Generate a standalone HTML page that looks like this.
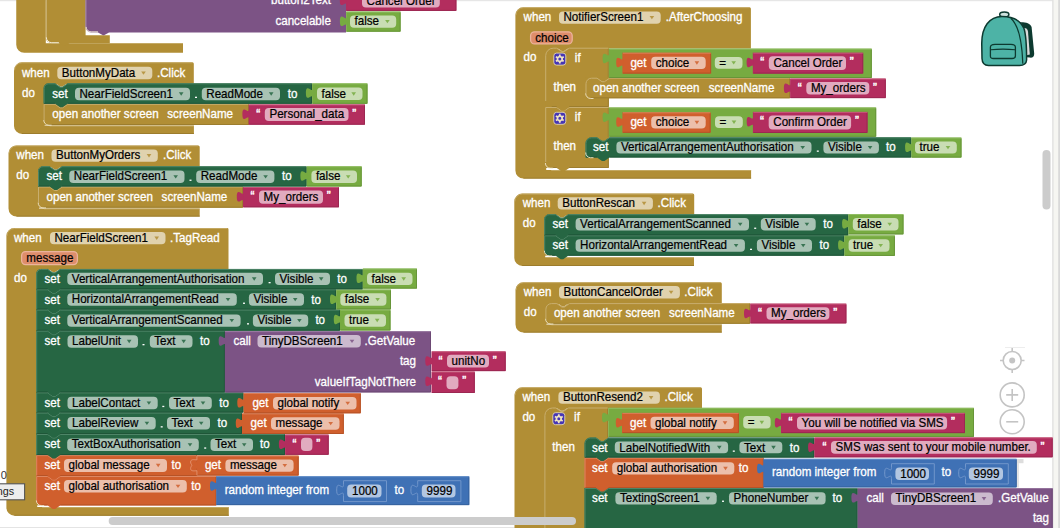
<!DOCTYPE html>
<html><head><meta charset="utf-8"><style>
html,body{margin:0;padding:0;background:#fff;overflow:hidden;width:1060px;height:528px}
svg{display:block}
text{font-family:"Liberation Sans",sans-serif;white-space:pre}
</style></head><body>
<svg width="1060" height="528" viewBox="0 0 1060 528">
<rect x="0" y="0" width="1060" height="1.2" rx="0" fill="#E6E6E6" />
<rect x="0" y="527" width="1060" height="1" rx="0" fill="#E4E4E4" />
<rect x="1052.4" y="0" width="7.6" height="528" rx="0" fill="#F6F6F2" />
<rect x="1052.4" y="0" width="1" height="528" rx="0" fill="#DADADA" />
<rect x="1058.2" y="0" width="1.8" height="528" rx="0" fill="#D9D9D9" />
<circle cx="1012.2" cy="360.5" r="9" stroke="#C4C4C4" stroke-width="1.6" fill="none"/>
<circle cx="1012.2" cy="360.5" r="3" fill="#C4C4C4"/>
<path d="M 1000,360.5 L 1003.5,360.5 M 1021,360.5 L 1024.5,360.5 M 1012.2,348 L 1012.2,351.5 M 1012.2,369.5 L 1012.2,373" fill="none" stroke="#C4C4C4" stroke-width="1.6" fill="none"/>
<rect x="1005" y="347" width="20" height="0.6" rx="0" fill="#E2E2E2" />
<circle cx="1012.2" cy="394.9" r="12" stroke="#C4C4C4" stroke-width="1.6" fill="none"/>
<path d="M 1006.2,394.9 L 1018.2,394.9 M 1012.2,388.9 L 1012.2,400.9" fill="none" stroke="#C4C4C4" stroke-width="1.6" fill="none"/>
<circle cx="1012.2" cy="421.8" r="12" stroke="#C4C4C4" stroke-width="1.6" fill="none"/>
<path d="M 1006.2,421.8 L 1018.2,421.8" fill="none" stroke="#C4C4C4" stroke-width="1.6" fill="none"/>
<path d="M 1018.5,22.3 C 1025,21.8 1030,23 1031.6,27 L 1034.2,53.5 C 1034.4,56.8 1032.5,58 1029.5,57.6 L 1024,57 L 1022,24 Z" fill="#0D3A30" />
<path d="M 1022.5,27.8 C 1026,27.8 1027.6,28.8 1028,31.5 L 1029.8,54.5 L 1026.5,55.2 Z" fill="#DCDCDC" />
<ellipse cx="1004.3" cy="14.6" rx="4.6" ry="2.5" fill="#CFE3DF" stroke="#0D3A30" stroke-width="1.5" stroke-linejoin="round"/>
<path d="M 981.8,46 C 981,26 990,16.4 1002,16.4 C 1012.5,16.4 1020.5,20.5 1024,28.5 C 1026,35 1026.6,50 1026.6,60 C 1026.3,64 1023.5,65.4 1019.5,65.4 L 988.5,65.4 C 984.3,65.4 982.2,63.2 982,58.5 Z" fill="#4DB3A6" stroke="#0D3A30" stroke-width="1.5" stroke-linejoin="round"/>
<path d="M 1010.8,18.2 C 1018.5,25 1022,40 1022.8,63.8" fill="none" stroke="#0D3A30" stroke-width="1.2" fill="none"/>
<path d="M 990.4,47.2 C 990.4,45.1 991.8,44.5 995,44.4 L 1011,44.4 C 1014,44.5 1015.4,45.1 1015.4,47.2 L 1015.4,56 C 1015.4,58 1014.4,58.5 1012,58.5 L 993.5,58.5 C 991,58.5 990.4,58 990.4,56 Z" fill="#4DB3A6" stroke="#0D3A30" stroke-width="1.3"/>
<path d="M 990.6,49.8 C 998,49 1008,49 1015.2,49.8" fill="none" stroke="#0D3A30" stroke-width="1.1"/>
<path d="M 16.25,-10 L 45.8,-10 L 45.8,43.2 L 183,43.2 L 183,52.8 L 24.25,52.8 A 8,8 0 0 1 16.25,44.8 Z" fill="#B18E35" />
<path d="M 45.8,-10 L 85.6,-10 L 85.6,35.2 L 109.8,35.2 L 109.8,43.2 L 69.7,43.2 l -5,2.6 -1,0 -4.8,-2.6 L 51.8,43.2 A 6,6 0 0 1 45.8,37.2 Z" fill="#B18E35" />
<path d="M 46.3,-10 L 46.3,37.2" fill="none" stroke="#CDB77D" stroke-width="1"/>
<path d="M 46.3,37.2 A 5.5,5.5 0 0 0 51.8,42.7 L 58.9,42.7" fill="none" stroke="#F3ECD8" stroke-width="1"/>
<path d="M 85.6,-10 L 346.1,-10 L 346.1,32.4 L 109,32.4 l -5,2.8 -1,0 -5,-2.8 L 91.1,32.4 A 5.5,5.5 0 0 1 85.6,26.9 Z" fill="#7C5385" />
<path d="M 86.1,-10 L 86.1,26.9" fill="none" stroke="#9A7BA2" stroke-width="1"/>
<path d="M 86.1,26.9 A 5,5 0 0 0 91.1,31.9 L 98,31.9" fill="none" stroke="#F3ECD8" stroke-width="1"/>
<text transform="translate(271,4.4) scale(0.94,1)" fill="#fff" font-size="12.35" stroke="#fff" stroke-width="0.3" >button2Text</text>
<rect x="346" y="-9.5" width="110.4" height="20.4" rx="0" fill="#B32D5E" />
<path d="M 346.6,-5.1 c 0,7.2 -6.8,-5.76 -6.8,5.4 s 6.8,-1.8 7.4,5.4 Z" fill="#B32D5E" />
<path d="M 455.9,-8.5 L 455.9,10.4 L 346.5,10.4" fill="none" stroke="#9C2752" stroke-width="1"/>
<path d="M 346.5,-9 L 455.9,-9" fill="none" stroke="#C9627F" stroke-width="0.8"/>
<rect x="362" y="-5" width="77.8" height="12.5" rx="4" fill="#E1ABBF" />
<text transform="translate(366.6,5.2) scale(0.94,1)" fill="#000" font-size="12.35" stroke="#000" stroke-width="0.22" >Cancel Order</text>
<text x="353.4" y="3.9" fill="#fff" font-size="12" stroke="#fff" stroke-width="0.35">“</text>
<text x="443.6" y="3.9" fill="#fff" font-size="12" stroke="#fff" stroke-width="0.35">”</text>
<text transform="translate(275.4,24.75) scale(0.94,1)" fill="#fff" font-size="12.35" stroke="#fff" stroke-width="0.3" >cancelable</text>
<rect x="346.1" y="11.5" width="54.5" height="20.2" rx="0" fill="#77AB41" />
<path d="M 346.7,15.9 c 0,7.2 -6.8,-5.76 -6.8,5.4 s 6.8,-1.8 7.4,5.4 Z" fill="#77AB41" />
<path d="M 400.1,12.5 L 400.1,31.2 L 346.6,31.2" fill="none" stroke="#679539" stroke-width="1"/>
<path d="M 346.6,12 L 400.1,12" fill="none" stroke="#98C26C" stroke-width="0.8"/>
<rect x="350" y="15.4" width="46.2" height="12.3" rx="4" fill="#C9DDB3" />
<text transform="translate(354.5,25.3) scale(0.94,1)" fill="#000" font-size="12.35" stroke="#000" stroke-width="0.22" >false</text>
<path d="M 385.1,19.95 l 4.6,0 l -2.3,3.4 Z" fill="#77AB41" fill-opacity="0.85"/>
<path d="M 14,70.3 A 8,8 0 0 1 22,62.3 L 192.3,62.3 A 1.5,1.5 0 0 1 193.8,63.8 L 193.8,84.1 L 44.6,84.1 L 44.6,125.6 L 193.9,125.6 L 193.9,133.9 L 22,133.9 A 8,8 0 0 1 14,125.9 Z" fill="#B18E35" />
<path d="M 14.5,70.3 A 7.5,7.5 0 0 1 22,62.8 L 192.3,62.8" fill="none" stroke="#C8AE6E" stroke-width="0.8"/>
<rect x="49.6" y="125.6" width="144.3" height="0.8" rx="0" fill="#C9B06F" />
<rect x="22" y="133" width="171.9" height="0.9" rx="0" fill="#9A7B2C" />
<text transform="translate(22,77) scale(0.94,1)" fill="#fff" font-size="12.35" stroke="#fff" stroke-width="0.3" >when</text>
<rect x="57.3" y="66.8" width="95" height="12.4" rx="4" fill="#E0D2AE" />
<text transform="translate(61.8,76.7) scale(0.94,1)" fill="#000" font-size="12.35" stroke="#000" stroke-width="0.22" >ButtonMyData</text>
<path d="M 141.2,71.4 l 4.6,0 l -2.3,3.4 Z" fill="#B18E35" fill-opacity="0.85"/>
<text transform="translate(157,77) scale(0.94,1)" fill="#fff" font-size="12.35" stroke="#fff" stroke-width="0.3" >.Click</text>
<text transform="translate(22,97.2) scale(0.94,1)" fill="#fff" font-size="12.35" stroke="#fff" stroke-width="0.3" >do</text>
<rect x="43.6" y="120" width="5" height="5" rx="0" fill="#B18E35" />
<path d="M 43.6,103.8 L 249,103.8 L 249,125 L 48.6,125 A 5,5 0 0 1 43.6,120 Z" fill="#B18E35" />
<path d="M 248.5,104.8 L 248.5,124.5 L 49.1,124.5" fill="none" stroke="#9C7D2E" stroke-width="1"/>
<path d="M 44.1,120 L 44.1,104.3 L 55.1,104.3 l 5,3.5 2.5,0 5,-3.5 L 248.5,104.3" fill="none" stroke="#C8AE6E" stroke-width="1"/>
<path d="M 43.8,120 A 5,5 0 0 0 48.6,125.2 L 51.6,125.2" fill="none" stroke="#EFE6CB" stroke-width="0.9"/>
<text transform="translate(52.3,117.6) scale(0.94,1)" fill="#fff" font-size="12.35" stroke="#fff" stroke-width="0.3" >open another screen</text>
<text transform="translate(167.3,117.6) scale(0.94,1)" fill="#fff" font-size="12.35" stroke="#fff" stroke-width="0.3" >screenName</text>
<rect x="248.6" y="104.4" width="116.4" height="20.3" rx="0" fill="#B32D5E" />
<path d="M 249.2,108.8 c 0,7.2 -6.8,-5.76 -6.8,5.4 s 6.8,-1.8 7.4,5.4 Z" fill="#B32D5E" />
<path d="M 364.5,105.4 L 364.5,124.2 L 249.1,124.2" fill="none" stroke="#9C2752" stroke-width="1"/>
<path d="M 249.1,104.9 L 364.5,104.9" fill="none" stroke="#C9627F" stroke-width="0.8"/>
<rect x="264.8" y="108" width="83.7" height="13.1" rx="4" fill="#E1ABBF" />
<text transform="translate(269.4,118.2) scale(0.94,1)" fill="#000" font-size="12.35" stroke="#000" stroke-width="0.22" >Personal_data</text>
<text x="256.2" y="117.8" fill="#fff" font-size="12" stroke="#fff" stroke-width="0.35">“</text>
<text x="352.3" y="117.8" fill="#fff" font-size="12" stroke="#fff" stroke-width="0.35">”</text>
<rect x="43.6" y="83.3" width="5" height="5" rx="0" fill="#B18E35" />
<path d="M 43.6,88.3 A 5,5 0 0 1 48.6,83.3 L 55.1,83.3 l 5,3.5 2.5,0 5,-3.5 L 312.1,83.3 L 312.1,103.8 L 67.6,103.8 l -5,3.5 -2.5,0 -5,-3.5 L 43.6,103.8 Z" fill="#266643" />
<path d="M 311.6,84.3 L 311.6,103.3 L 67.6,103.3 M 55.1,103.3 L 44.1,103.3" fill="none" stroke="#1F5638" stroke-width="1"/>
<path d="M 55.1,83 l 5,3.5 2.5,0 5,-3.5 Z" fill="#B18E35" />
<path d="M 44.1,103.3 L 44.1,88.3 A 4.5,4.5 0 0 1 48.6,83.8 L 55.1,83.8 l 5,3.5 2.5,0 5,-3.5 L 311.6,83.8" fill="none" stroke="#4E8567" stroke-width="1"/>
<text transform="translate(52.2,97.7) scale(0.94,1)" fill="#fff" font-size="12.35" stroke="#fff" stroke-width="0.3" >set</text>
<rect x="75" y="87.7" width="115" height="12.5" rx="4" fill="#A8C2B4" />
<text transform="translate(79.5,97.6) scale(0.94,1)" fill="#000" font-size="12.35" stroke="#000" stroke-width="0.22" >NearFieldScreen1</text>
<path d="M 178.9,92.35 l 4.6,0 l -2.3,3.4 Z" fill="#266643" fill-opacity="0.85"/>
<rect x="195" y="96.7" width="2" height="1.3" rx="0" fill="#fff" />
<rect x="201.8" y="87.7" width="78.2" height="12.5" rx="4" fill="#A8C2B4" />
<text transform="translate(206.3,97.6) scale(0.94,1)" fill="#000" font-size="12.35" stroke="#000" stroke-width="0.22" >ReadMode</text>
<path d="M 268.9,92.35 l 4.6,0 l -2.3,3.4 Z" fill="#266643" fill-opacity="0.85"/>
<text transform="translate(287.7,97.7) scale(0.94,1)" fill="#fff" font-size="12.35" stroke="#fff" stroke-width="0.3" >to</text>
<rect x="312.1" y="83.3" width="55.4" height="20.5" rx="0" fill="#77AB41" />
<path d="M 312.7,87.7 c 0,7.2 -6.8,-5.76 -6.8,5.4 s 6.8,-1.8 7.4,5.4 Z" fill="#77AB41" />
<path d="M 367,84.3 L 367,103.3 L 312.6,103.3" fill="none" stroke="#679539" stroke-width="1"/>
<path d="M 312.6,83.8 L 367,83.8" fill="none" stroke="#98C26C" stroke-width="0.8"/>
<rect x="317" y="87.6" width="45.5" height="12.5" rx="4" fill="#C9DDB3" />
<text transform="translate(321.5,97.5) scale(0.94,1)" fill="#000" font-size="12.35" stroke="#000" stroke-width="0.22" >false</text>
<path d="M 351.4,92.25 l 4.6,0 l -2.3,3.4 Z" fill="#77AB41" fill-opacity="0.85"/>
<path d="M 8.5,153.4 A 8,8 0 0 1 16.5,145.4 L 198.2,145.4 A 1.5,1.5 0 0 1 199.7,146.9 L 199.7,167 L 39,167 L 39,208.5 L 199.7,208.5 L 199.7,216.6 L 16.5,216.6 A 8,8 0 0 1 8.5,208.6 Z" fill="#B18E35" />
<path d="M 9,153.4 A 7.5,7.5 0 0 1 16.5,145.9 L 198.2,145.9" fill="none" stroke="#C8AE6E" stroke-width="0.8"/>
<rect x="44" y="208.5" width="155.7" height="0.8" rx="0" fill="#C9B06F" />
<rect x="16.5" y="215.7" width="183.2" height="0.9" rx="0" fill="#9A7B2C" />
<text transform="translate(16.3,158.9) scale(0.94,1)" fill="#fff" font-size="12.35" stroke="#fff" stroke-width="0.3" >when</text>
<rect x="51.5" y="149.4" width="106.3" height="12.4" rx="4" fill="#E0D2AE" />
<text transform="translate(56,159.3) scale(0.94,1)" fill="#000" font-size="12.35" stroke="#000" stroke-width="0.22" >ButtonMyOrders</text>
<path d="M 146.7,154 l 4.6,0 l -2.3,3.4 Z" fill="#B18E35" fill-opacity="0.85"/>
<text transform="translate(163,158.9) scale(0.94,1)" fill="#fff" font-size="12.35" stroke="#fff" stroke-width="0.3" >.Click</text>
<text transform="translate(16.3,179) scale(0.94,1)" fill="#fff" font-size="12.35" stroke="#fff" stroke-width="0.3" >do</text>
<rect x="38" y="202.7" width="5" height="5" rx="0" fill="#B18E35" />
<path d="M 38,186.5 L 243,186.5 L 243,207.7 L 43,207.7 A 5,5 0 0 1 38,202.7 Z" fill="#B18E35" />
<path d="M 242.5,187.5 L 242.5,207.2 L 43.5,207.2" fill="none" stroke="#9C7D2E" stroke-width="1"/>
<path d="M 38.5,202.7 L 38.5,187 L 49.5,187 l 5,3.5 2.5,0 5,-3.5 L 242.5,187" fill="none" stroke="#C8AE6E" stroke-width="1"/>
<path d="M 38.2,202.7 A 5,5 0 0 0 43,207.9 L 46,207.9" fill="none" stroke="#EFE6CB" stroke-width="0.9"/>
<text transform="translate(46.5,201) scale(0.94,1)" fill="#fff" font-size="12.35" stroke="#fff" stroke-width="0.3" >open another screen</text>
<text transform="translate(161.6,201) scale(0.94,1)" fill="#fff" font-size="12.35" stroke="#fff" stroke-width="0.3" >screenName</text>
<rect x="243" y="187" width="96" height="20.3" rx="0" fill="#B32D5E" />
<path d="M 243.6,191.4 c 0,7.2 -6.8,-5.76 -6.8,5.4 s 6.8,-1.8 7.4,5.4 Z" fill="#B32D5E" />
<path d="M 338.5,188 L 338.5,206.8 L 243.5,206.8" fill="none" stroke="#9C2752" stroke-width="1"/>
<path d="M 243.5,187.5 L 338.5,187.5" fill="none" stroke="#C9627F" stroke-width="0.8"/>
<rect x="259" y="190.6" width="64" height="13.1" rx="4" fill="#E1ABBF" />
<text transform="translate(263.6,200.8) scale(0.94,1)" fill="#000" font-size="12.35" stroke="#000" stroke-width="0.22" >My_orders</text>
<text x="250.4" y="200.4" fill="#fff" font-size="12" stroke="#fff" stroke-width="0.35">“</text>
<text x="326.8" y="200.4" fill="#fff" font-size="12" stroke="#fff" stroke-width="0.35">”</text>
<rect x="38" y="166.2" width="5" height="5" rx="0" fill="#B18E35" />
<path d="M 38,171.2 A 5,5 0 0 1 43,166.2 L 49.5,166.2 l 5,3.5 2.5,0 5,-3.5 L 306.6,166.2 L 306.6,186.5 L 62,186.5 l -5,3.5 -2.5,0 -5,-3.5 L 38,186.5 Z" fill="#266643" />
<path d="M 306.1,167.2 L 306.1,186 L 62,186 M 49.5,186 L 38.5,186" fill="none" stroke="#1F5638" stroke-width="1"/>
<path d="M 49.5,165.9 l 5,3.5 2.5,0 5,-3.5 Z" fill="#B18E35" />
<path d="M 38.5,186 L 38.5,171.2 A 4.5,4.5 0 0 1 43,166.7 L 49.5,166.7 l 5,3.5 2.5,0 5,-3.5 L 306.1,166.7" fill="none" stroke="#4E8567" stroke-width="1"/>
<text transform="translate(46.5,179.6) scale(0.94,1)" fill="#fff" font-size="12.35" stroke="#fff" stroke-width="0.3" >set</text>
<rect x="69.3" y="170.5" width="115.2" height="12.5" rx="4" fill="#A8C2B4" />
<text transform="translate(73.8,180.4) scale(0.94,1)" fill="#000" font-size="12.35" stroke="#000" stroke-width="0.22" >NearFieldScreen1</text>
<path d="M 173.4,175.15 l 4.6,0 l -2.3,3.4 Z" fill="#266643" fill-opacity="0.85"/>
<rect x="189.5" y="179.6" width="2" height="1.3" rx="0" fill="#fff" />
<rect x="196.2" y="170.5" width="78.2" height="12.5" rx="4" fill="#A8C2B4" />
<text transform="translate(200.7,180.4) scale(0.94,1)" fill="#000" font-size="12.35" stroke="#000" stroke-width="0.22" >ReadMode</text>
<path d="M 263.3,175.15 l 4.6,0 l -2.3,3.4 Z" fill="#266643" fill-opacity="0.85"/>
<text transform="translate(282,179.9) scale(0.94,1)" fill="#fff" font-size="12.35" stroke="#fff" stroke-width="0.3" >to</text>
<rect x="306.6" y="166.2" width="55.1" height="20.3" rx="0" fill="#77AB41" />
<path d="M 307.2,170.6 c 0,7.2 -6.8,-5.76 -6.8,5.4 s 6.8,-1.8 7.4,5.4 Z" fill="#77AB41" />
<path d="M 361.2,167.2 L 361.2,186 L 307.1,186" fill="none" stroke="#679539" stroke-width="1"/>
<path d="M 307.1,166.7 L 361.2,166.7" fill="none" stroke="#98C26C" stroke-width="0.8"/>
<rect x="311.4" y="170.5" width="45.6" height="12.5" rx="4" fill="#C9DDB3" />
<text transform="translate(315.9,180.4) scale(0.94,1)" fill="#000" font-size="12.35" stroke="#000" stroke-width="0.22" >false</text>
<path d="M 345.9,175.15 l 4.6,0 l -2.3,3.4 Z" fill="#77AB41" fill-opacity="0.85"/>
<path d="M 6.4,236 A 8,8 0 0 1 14.4,228 L 227,228 A 1.5,1.5 0 0 1 228.5,229.5 L 228.5,269.7 L 37.2,269.7 L 37.2,507 L 228.8,507 L 228.8,515.7 L 14.4,515.7 A 8,8 0 0 1 6.4,507.7 Z" fill="#B18E35" />
<path d="M 6.9,236 A 7.5,7.5 0 0 1 14.4,228.5 L 227,228.5" fill="none" stroke="#C8AE6E" stroke-width="0.8"/>
<rect x="42.2" y="507" width="186.6" height="0.8" rx="0" fill="#C9B06F" />
<rect x="14.4" y="514.8" width="214.4" height="0.9" rx="0" fill="#9A7B2C" />
<text transform="translate(14,241.7) scale(0.94,1)" fill="#fff" font-size="12.35" stroke="#fff" stroke-width="0.3" >when</text>
<rect x="50" y="232" width="115.5" height="12.3" rx="4" fill="#E0D2AE" />
<text transform="translate(54.5,241.9) scale(0.94,1)" fill="#000" font-size="12.35" stroke="#000" stroke-width="0.22" >NearFieldScreen1</text>
<path d="M 154.4,236.55 l 4.6,0 l -2.3,3.4 Z" fill="#B18E35" fill-opacity="0.85"/>
<text transform="translate(170,241.7) scale(0.94,1)" fill="#fff" font-size="12.35" stroke="#fff" stroke-width="0.3" >.TagRead</text>
<rect x="21.6" y="251.6" width="55.8" height="13" rx="4" fill="#DE8D6B" stroke="#EBB39B" stroke-width="1.3"/>
<text transform="translate(26.3,261.8) scale(0.94,1)" fill="#000" font-size="12.35" stroke="#000" stroke-width="0.22" >message</text>
<text transform="translate(14,282) scale(0.94,1)" fill="#fff" font-size="12.35" stroke="#fff" stroke-width="0.3" >do</text>
<rect x="36.2" y="500.4" width="5" height="5" rx="0" fill="#B18E35" />
<path d="M 36.2,476 L 216.5,476 L 216.5,505.4 L 60.2,505.4 l -5,3.5 -2.5,0 -5,-3.5 L 41.2,505.4 A 5,5 0 0 1 36.2,500.4 Z" fill="#D05F2D" />
<path d="M 216,477 L 216,504.9 L 60.2,504.9 M 47.7,504.9 L 41.7,504.9" fill="none" stroke="#B65327" stroke-width="1"/>
<path d="M 36.7,500.4 L 36.7,476.5 L 47.7,476.5 l 5,3.5 2.5,0 5,-3.5 L 216,476.5" fill="none" stroke="#DE8762" stroke-width="1"/>
<path d="M 36.4,500.4 A 5,5 0 0 0 41.2,505.6 L 44.2,505.6" fill="none" stroke="#EFE6CB" stroke-width="0.9"/>
<text transform="translate(44.5,490.4) scale(0.94,1)" fill="#fff" font-size="12.35" stroke="#fff" stroke-width="0.3" >set</text>
<rect x="64" y="480" width="122.8" height="12.5" rx="4" fill="#ECBFAB" />
<text transform="translate(68.5,489.9) scale(0.94,1)" fill="#000" font-size="12.35" stroke="#000" stroke-width="0.22" >global authorisation</text>
<path d="M 175.7,484.65 l 4.6,0 l -2.3,3.4 Z" fill="#D05F2D" fill-opacity="0.85"/>
<text transform="translate(191.3,490.4) scale(0.94,1)" fill="#fff" font-size="12.35" stroke="#fff" stroke-width="0.3" >to</text>
<rect x="216.2" y="476.2" width="253.1" height="28.9" rx="0" fill="#3F71B5" />
<path d="M 216.8,480.6 c 0,7.2 -6.8,-5.76 -6.8,5.4 s 6.8,-1.8 7.4,5.4 Z" fill="#3F71B5" />
<path d="M 468.8,477.2 L 468.8,504.6 L 216.7,504.6" fill="none" stroke="#37639F" stroke-width="1"/>
<path d="M 216.7,476.7 L 468.8,476.7" fill="none" stroke="#6A93CA" stroke-width="0.8"/>
<text transform="translate(224.7,493.9) scale(0.94,1)" fill="#fff" font-size="12.35" stroke="#fff" stroke-width="0.3" >random integer from</text>
<rect x="343" y="480.2" width="44" height="21.9" rx="0" fill="#3F71B5" />
<path d="M 343.6,484.6 c 0,7.2 -6.8,-5.76 -6.8,5.4 s 6.8,-1.8 7.4,5.4 Z" fill="#3F71B5" />
<path d="M 343.5,484.6 L 343.5,480.7 L 386.5,480.7 L 386.5,501.6 L 343.5,501.6 L 343.5,495.4 " fill="none" stroke="#7196CB" stroke-width="1" fill="none"/>
<path d="M 343.5,484.6 c 0,7.2 -6.8,-5.76 -6.8,5.4 s 6.8,-1.8 6.8,5.4" fill="none" stroke="#7196CB" stroke-width="1" fill="none"/>
<rect x="347.2" y="484.5" width="34.3" height="13" rx="4" fill="#B2C6E1" />
<text transform="translate(352,494.5) scale(0.94,1)" fill="#000" font-size="12.35" stroke="#000" stroke-width="0.22" >1000</text>
<text transform="translate(394.5,494.3) scale(0.94,1)" fill="#fff" font-size="12.35" stroke="#fff" stroke-width="0.3" >to</text>
<rect x="417.2" y="480.2" width="44.2" height="21.9" rx="0" fill="#3F71B5" />
<path d="M 417.8,484.6 c 0,7.2 -6.8,-5.76 -6.8,5.4 s 6.8,-1.8 7.4,5.4 Z" fill="#3F71B5" />
<path d="M 417.7,484.6 L 417.7,480.7 L 460.9,480.7 L 460.9,501.6 L 417.7,501.6 L 417.7,495.4 " fill="none" stroke="#7196CB" stroke-width="1" fill="none"/>
<path d="M 417.7,484.6 c 0,7.2 -6.8,-5.76 -6.8,5.4 s 6.8,-1.8 6.8,5.4" fill="none" stroke="#7196CB" stroke-width="1" fill="none"/>
<rect x="421.8" y="484.5" width="33.7" height="13" rx="4" fill="#B2C6E1" />
<text transform="translate(426.6,494.5) scale(0.94,1)" fill="#000" font-size="12.35" stroke="#000" stroke-width="0.22" >9999</text>
<path d="M 36.2,455.1 L 197,455.1 L 197,476 L 60.2,476 l -5,3.5 -2.5,0 -5,-3.5 L 36.2,476 Z" fill="#D05F2D" />
<path d="M 196.5,456.1 L 196.5,475.5 L 60.2,475.5 M 47.7,475.5 L 36.7,475.5" fill="none" stroke="#B65327" stroke-width="1"/>
<path d="M 36.7,475.5 L 36.7,455.6 L 47.7,455.6 l 5,3.5 2.5,0 5,-3.5 L 196.5,455.6" fill="none" stroke="#DE8762" stroke-width="1"/>
<text transform="translate(44.5,469.4) scale(0.94,1)" fill="#fff" font-size="12.35" stroke="#fff" stroke-width="0.3" >set</text>
<rect x="64" y="459" width="103" height="12.9" rx="4" fill="#ECBFAB" />
<text transform="translate(68.5,468.9) scale(0.94,1)" fill="#000" font-size="12.35" stroke="#000" stroke-width="0.22" >global message</text>
<path d="M 155.9,463.85 l 4.6,0 l -2.3,3.4 Z" fill="#D05F2D" fill-opacity="0.85"/>
<text transform="translate(171.6,469.4) scale(0.94,1)" fill="#fff" font-size="12.35" stroke="#fff" stroke-width="0.3" >to</text>
<rect x="196.4" y="455.5" width="102.3" height="20.1" rx="0" fill="#D05F2D" />
<path d="M 197,459.9 c 0,7.2 -6.8,-5.76 -6.8,5.4 s 6.8,-1.8 7.4,5.4 Z" fill="#D05F2D" />
<path d="M 298.2,456.5 L 298.2,475.1 L 196.9,475.1" fill="none" stroke="#B65327" stroke-width="1"/>
<path d="M 196.9,456 L 298.2,456" fill="none" stroke="#DE8762" stroke-width="0.8"/>
<path d="M 196.9,459.9 L 196.9,456 M 196.9,470.7 L 196.9,475.1" fill="none" stroke="#E4906A" stroke-width="1"/>
<path d="M 196.9,459.9 C 194,459.6 190.6,459 190.6,462 C 190.6,464 191.8,464.5 191.8,465.3 C 191.8,466.1 190.6,466.6 190.6,468.6 C 190.6,471.4 194,470.9 196.9,470.7" fill="none" stroke="#E49472" stroke-width="0.9"/>
<text transform="translate(204.9,469.4) scale(0.94,1)" fill="#fff" font-size="12.35" stroke="#fff" stroke-width="0.3" >get</text>
<rect x="225.4" y="459.4" width="68.2" height="12.3" rx="4" fill="#ECBFAB" />
<text transform="translate(229.9,469.3) scale(0.94,1)" fill="#000" font-size="12.35" stroke="#000" stroke-width="0.22" >message</text>
<path d="M 282.5,463.95 l 4.6,0 l -2.3,3.4 Z" fill="#D05F2D" fill-opacity="0.85"/>
<path d="M 36.2,434 L 285.1,434 L 285.1,455.1 L 60.2,455.1 l -5,3.5 -2.5,0 -5,-3.5 L 36.2,455.1 Z" fill="#266643" />
<path d="M 284.6,435 L 284.6,454.6 L 60.2,454.6 M 47.7,454.6 L 36.7,454.6" fill="none" stroke="#1F5638" stroke-width="1"/>
<path d="M 36.7,454.6 L 36.7,434.5 L 47.7,434.5 l 5,3.5 2.5,0 5,-3.5 L 284.6,434.5" fill="none" stroke="#4E8567" stroke-width="1"/>
<text transform="translate(44.5,448.4) scale(0.94,1)" fill="#fff" font-size="12.35" stroke="#fff" stroke-width="0.3" >set</text>
<rect x="67.2" y="438.5" width="131.6" height="12.5" rx="4" fill="#A8C2B4" />
<text transform="translate(71.7,448.4) scale(0.94,1)" fill="#000" font-size="12.35" stroke="#000" stroke-width="0.22" >TextBoxAuthorisation</text>
<path d="M 187.7,443.15 l 4.6,0 l -2.3,3.4 Z" fill="#266643" fill-opacity="0.85"/>
<rect x="204.2" y="447.4" width="2" height="1.3" rx="0" fill="#fff" />
<rect x="210.5" y="438.5" width="42.5" height="12.5" rx="4" fill="#A8C2B4" />
<text transform="translate(215,448.4) scale(0.94,1)" fill="#000" font-size="12.35" stroke="#000" stroke-width="0.22" >Text</text>
<path d="M 241.9,443.15 l 4.6,0 l -2.3,3.4 Z" fill="#266643" fill-opacity="0.85"/>
<text transform="translate(260,448.4) scale(0.94,1)" fill="#fff" font-size="12.35" stroke="#fff" stroke-width="0.3" >to</text>
<rect x="285.1" y="434.5" width="43.6" height="20.3" rx="0" fill="#B32D5E" />
<path d="M 285.7,438.9 c 0,7.2 -6.8,-5.76 -6.8,5.4 s 6.8,-1.8 7.4,5.4 Z" fill="#B32D5E" />
<path d="M 328.2,435.5 L 328.2,454.3 L 285.6,454.3" fill="none" stroke="#9C2752" stroke-width="1"/>
<path d="M 285.6,435 L 328.2,435" fill="none" stroke="#C9627F" stroke-width="0.8"/>
<rect x="301" y="437.8" width="11.4" height="13.2" rx="4" fill="#E1ABBF" />
<text x="292.4" y="447.9" fill="#fff" font-size="12" stroke="#fff" stroke-width="0.35">“</text>
<text x="316.2" y="447.9" fill="#fff" font-size="12" stroke="#fff" stroke-width="0.35">”</text>
<path d="M 36.2,412.6 L 242,412.6 L 242,434 L 60.2,434 l -5,3.5 -2.5,0 -5,-3.5 L 36.2,434 Z" fill="#266643" />
<path d="M 241.5,413.6 L 241.5,433.5 L 60.2,433.5 M 47.7,433.5 L 36.7,433.5" fill="none" stroke="#1F5638" stroke-width="1"/>
<path d="M 36.7,433.5 L 36.7,413.1 L 47.7,413.1 l 5,3.5 2.5,0 5,-3.5 L 241.5,413.1" fill="none" stroke="#4E8567" stroke-width="1"/>
<text transform="translate(44.5,427.2) scale(0.94,1)" fill="#fff" font-size="12.35" stroke="#fff" stroke-width="0.3" >set</text>
<rect x="67.5" y="417" width="88.2" height="12.5" rx="4" fill="#A8C2B4" />
<text transform="translate(72,426.9) scale(0.94,1)" fill="#000" font-size="12.35" stroke="#000" stroke-width="0.22" >LabelReview</text>
<path d="M 144.6,421.65 l 4.6,0 l -2.3,3.4 Z" fill="#266643" fill-opacity="0.85"/>
<rect x="160.7" y="426.2" width="2" height="1.3" rx="0" fill="#fff" />
<rect x="167" y="417" width="43" height="12.5" rx="4" fill="#A8C2B4" />
<text transform="translate(171.5,426.9) scale(0.94,1)" fill="#000" font-size="12.35" stroke="#000" stroke-width="0.22" >Text</text>
<path d="M 198.9,421.65 l 4.6,0 l -2.3,3.4 Z" fill="#266643" fill-opacity="0.85"/>
<text transform="translate(217.5,427.2) scale(0.94,1)" fill="#fff" font-size="12.35" stroke="#fff" stroke-width="0.3" >to</text>
<rect x="242" y="413.4" width="101.8" height="20.6" rx="0" fill="#D05F2D" />
<path d="M 242.6,417.8 c 0,7.2 -6.8,-5.76 -6.8,5.4 s 6.8,-1.8 7.4,5.4 Z" fill="#D05F2D" />
<path d="M 343.3,414.4 L 343.3,433.5 L 242.5,433.5" fill="none" stroke="#B65327" stroke-width="1"/>
<path d="M 242.5,413.9 L 343.3,413.9" fill="none" stroke="#DE8762" stroke-width="0.8"/>
<text transform="translate(250.5,427.2) scale(0.94,1)" fill="#fff" font-size="12.35" stroke="#fff" stroke-width="0.3" >get</text>
<rect x="271" y="417.3" width="68.5" height="12.5" rx="4" fill="#ECBFAB" />
<text transform="translate(275.5,427.2) scale(0.94,1)" fill="#000" font-size="12.35" stroke="#000" stroke-width="0.22" >message</text>
<path d="M 328.4,421.95 l 4.6,0 l -2.3,3.4 Z" fill="#D05F2D" fill-opacity="0.85"/>
<path d="M 36.2,392.4 L 243.5,392.4 L 243.5,412.6 L 60.2,412.6 l -5,3.5 -2.5,0 -5,-3.5 L 36.2,412.6 Z" fill="#266643" />
<path d="M 243,393.4 L 243,412.1 L 60.2,412.1 M 47.7,412.1 L 36.7,412.1" fill="none" stroke="#1F5638" stroke-width="1"/>
<path d="M 36.7,412.1 L 36.7,392.9 L 47.7,392.9 l 5,3.5 2.5,0 5,-3.5 L 243,392.9" fill="none" stroke="#4E8567" stroke-width="1"/>
<text transform="translate(44.5,406.8) scale(0.94,1)" fill="#fff" font-size="12.35" stroke="#fff" stroke-width="0.3" >set</text>
<rect x="67.5" y="396.8" width="90.2" height="12.5" rx="4" fill="#A8C2B4" />
<text transform="translate(72,406.7) scale(0.94,1)" fill="#000" font-size="12.35" stroke="#000" stroke-width="0.22" >LabelContact</text>
<path d="M 146.6,401.45 l 4.6,0 l -2.3,3.4 Z" fill="#266643" fill-opacity="0.85"/>
<rect x="162.3" y="405.8" width="2" height="1.3" rx="0" fill="#fff" />
<rect x="169" y="396.8" width="42.8" height="12.5" rx="4" fill="#A8C2B4" />
<text transform="translate(173.5,406.7) scale(0.94,1)" fill="#000" font-size="12.35" stroke="#000" stroke-width="0.22" >Text</text>
<path d="M 200.7,401.45 l 4.6,0 l -2.3,3.4 Z" fill="#266643" fill-opacity="0.85"/>
<text transform="translate(219.3,406.8) scale(0.94,1)" fill="#fff" font-size="12.35" stroke="#fff" stroke-width="0.3" >to</text>
<rect x="243.5" y="393" width="117.3" height="20.3" rx="0" fill="#D05F2D" />
<path d="M 244.1,397.4 c 0,7.2 -6.8,-5.76 -6.8,5.4 s 6.8,-1.8 7.4,5.4 Z" fill="#D05F2D" />
<path d="M 360.3,394 L 360.3,412.8 L 244,412.8" fill="none" stroke="#B65327" stroke-width="1"/>
<path d="M 244,393.5 L 360.3,393.5" fill="none" stroke="#DE8762" stroke-width="0.8"/>
<text transform="translate(252.4,406.9) scale(0.94,1)" fill="#fff" font-size="12.35" stroke="#fff" stroke-width="0.3" >get</text>
<rect x="273" y="397" width="83.5" height="12.5" rx="4" fill="#ECBFAB" />
<text transform="translate(277.5,406.9) scale(0.94,1)" fill="#000" font-size="12.35" stroke="#000" stroke-width="0.22" >global notify</text>
<path d="M 345.4,401.65 l 4.6,0 l -2.3,3.4 Z" fill="#D05F2D" fill-opacity="0.85"/>
<path d="M 36.2,330.7 L 224.9,330.7 L 224.9,392.4 L 60.2,392.4 l -5,3.5 -2.5,0 -5,-3.5 L 36.2,392.4 Z" fill="#266643" />
<path d="M 224.4,331.7 L 224.4,391.9 L 60.2,391.9 M 47.7,391.9 L 36.7,391.9" fill="none" stroke="#1F5638" stroke-width="1"/>
<path d="M 36.7,391.9 L 36.7,331.2 L 47.7,331.2 l 5,3.5 2.5,0 5,-3.5 L 224.4,331.2" fill="none" stroke="#4E8567" stroke-width="1"/>
<text transform="translate(44.5,345) scale(0.94,1)" fill="#fff" font-size="12.35" stroke="#fff" stroke-width="0.3" >set</text>
<rect x="67.5" y="335.2" width="70.5" height="12.5" rx="4" fill="#A8C2B4" />
<text transform="translate(72,345.1) scale(0.94,1)" fill="#000" font-size="12.35" stroke="#000" stroke-width="0.22" >LabelUnit</text>
<path d="M 126.9,339.85 l 4.6,0 l -2.3,3.4 Z" fill="#266643" fill-opacity="0.85"/>
<rect x="142.5" y="344" width="2" height="1.3" rx="0" fill="#fff" />
<rect x="149.8" y="335.2" width="42.7" height="12.5" rx="4" fill="#A8C2B4" />
<text transform="translate(154.3,345.1) scale(0.94,1)" fill="#000" font-size="12.35" stroke="#000" stroke-width="0.22" >Text</text>
<path d="M 181.4,339.85 l 4.6,0 l -2.3,3.4 Z" fill="#266643" fill-opacity="0.85"/>
<text transform="translate(200,345) scale(0.94,1)" fill="#fff" font-size="12.35" stroke="#fff" stroke-width="0.3" >to</text>
<rect x="224.9" y="331.2" width="206.1" height="61.2" rx="0" fill="#7C5385" />
<path d="M 225.5,335.6 c 0,7.2 -6.8,-5.76 -6.8,5.4 s 6.8,-1.8 7.4,5.4 Z" fill="#7C5385" />
<path d="M 430.5,332.2 L 430.5,391.9 L 225.4,391.9" fill="none" stroke="#6C4974" stroke-width="1"/>
<path d="M 225.4,331.7 L 430.5,331.7" fill="none" stroke="#9A7BA2" stroke-width="0.8"/>
<text transform="translate(233.4,345.2) scale(0.94,1)" fill="#fff" font-size="12.35" stroke="#fff" stroke-width="0.3" >call</text>
<rect x="257.5" y="335" width="103.3" height="12.5" rx="4" fill="#CBBACE" />
<text transform="translate(262,344.9) scale(0.94,1)" fill="#000" font-size="12.35" stroke="#000" stroke-width="0.22" >TinyDBScreen1</text>
<path d="M 349.7,339.65 l 4.6,0 l -2.3,3.4 Z" fill="#7C5385" fill-opacity="0.85"/>
<text transform="translate(364.5,345.2) scale(0.94,1)" fill="#fff" font-size="12.35" stroke="#fff" stroke-width="0.3" >.GetValue</text>
<text transform="translate(416,365) scale(0.94,1)" fill="#fff" font-size="12.35" stroke="#fff" stroke-width="0.3" text-anchor="end">tag</text>
<text transform="translate(416,386) scale(0.94,1)" fill="#fff" font-size="12.35" stroke="#fff" stroke-width="0.3" text-anchor="end">valueIfTagNotThere</text>
<rect x="431.5" y="351.3" width="74.2" height="19.8" rx="0" fill="#B32D5E" />
<path d="M 432.1,355.7 c 0,7.2 -6.8,-5.76 -6.8,5.4 s 6.8,-1.8 7.4,5.4 Z" fill="#B32D5E" />
<path d="M 505.2,352.3 L 505.2,370.6 L 432,370.6" fill="none" stroke="#9C2752" stroke-width="1"/>
<path d="M 432,351.8 L 505.2,351.8" fill="none" stroke="#C9627F" stroke-width="0.8"/>
<rect x="447" y="354.7" width="42" height="12.8" rx="4" fill="#E1ABBF" />
<text transform="translate(451.6,364.9) scale(0.94,1)" fill="#000" font-size="12.35" stroke="#000" stroke-width="0.22" >unitNo</text>
<text x="438.4" y="364.7" fill="#fff" font-size="12" stroke="#fff" stroke-width="0.35">“</text>
<text x="492.8" y="364.7" fill="#fff" font-size="12" stroke="#fff" stroke-width="0.35">”</text>
<rect x="431.5" y="371.5" width="43.3" height="21.5" rx="0" fill="#B32D5E" />
<path d="M 432.1,375.9 c 0,7.2 -6.8,-5.76 -6.8,5.4 s 6.8,-1.8 7.4,5.4 Z" fill="#B32D5E" />
<path d="M 474.3,372.5 L 474.3,392.5 L 432,392.5" fill="none" stroke="#9C2752" stroke-width="1"/>
<path d="M 432,372 L 474.3,372" fill="none" stroke="#C9627F" stroke-width="0.8"/>
<rect x="446.5" y="376.3" width="11.9" height="13" rx="4" fill="#E1ABBF" />
<text x="437.9" y="384.9" fill="#fff" font-size="12" stroke="#fff" stroke-width="0.35">“</text>
<text x="462.2" y="384.9" fill="#fff" font-size="12" stroke="#fff" stroke-width="0.35">”</text>
<path d="M 36.2,309.6 L 340,309.6 L 340,330.7 L 60.2,330.7 l -5,3.5 -2.5,0 -5,-3.5 L 36.2,330.7 Z" fill="#266643" />
<path d="M 339.5,310.6 L 339.5,330.2 L 60.2,330.2 M 47.7,330.2 L 36.7,330.2" fill="none" stroke="#1F5638" stroke-width="1"/>
<path d="M 36.7,330.2 L 36.7,310.1 L 47.7,310.1 l 5,3.5 2.5,0 5,-3.5 L 339.5,310.1" fill="none" stroke="#4E8567" stroke-width="1"/>
<text transform="translate(44.5,324.2) scale(0.94,1)" fill="#fff" font-size="12.35" stroke="#fff" stroke-width="0.3" >set</text>
<rect x="67.3" y="314.4" width="173.3" height="12.3" rx="4" fill="#A8C2B4" />
<text transform="translate(71.8,324.3) scale(0.94,1)" fill="#000" font-size="12.35" stroke="#000" stroke-width="0.22" >VerticalArrangementScanned</text>
<path d="M 229.5,318.95 l 4.6,0 l -2.3,3.4 Z" fill="#266643" fill-opacity="0.85"/>
<rect x="247" y="323.2" width="2" height="1.3" rx="0" fill="#fff" />
<rect x="252.9" y="314.4" width="55.3" height="12.3" rx="4" fill="#A8C2B4" />
<text transform="translate(257.4,324.3) scale(0.94,1)" fill="#000" font-size="12.35" stroke="#000" stroke-width="0.22" >Visible</text>
<path d="M 297.1,318.95 l 4.6,0 l -2.3,3.4 Z" fill="#266643" fill-opacity="0.85"/>
<text transform="translate(315.4,324.2) scale(0.94,1)" fill="#fff" font-size="12.35" stroke="#fff" stroke-width="0.3" >to</text>
<rect x="340" y="309.6" width="50.5" height="20.9" rx="0" fill="#77AB41" />
<path d="M 340.6,314 c 0,7.2 -6.8,-5.76 -6.8,5.4 s 6.8,-1.8 7.4,5.4 Z" fill="#77AB41" />
<path d="M 390,310.6 L 390,330 L 340.5,330" fill="none" stroke="#679539" stroke-width="1"/>
<path d="M 340.5,310.1 L 390,310.1" fill="none" stroke="#98C26C" stroke-width="0.8"/>
<rect x="344.5" y="314.2" width="41.5" height="12.5" rx="4" fill="#C9DDB3" />
<text transform="translate(349,324.1) scale(0.94,1)" fill="#000" font-size="12.35" stroke="#000" stroke-width="0.22" >true</text>
<path d="M 374.9,318.85 l 4.6,0 l -2.3,3.4 Z" fill="#77AB41" fill-opacity="0.85"/>
<path d="M 36.2,289.3 L 336.2,289.3 L 336.2,309.6 L 60.2,309.6 l -5,3.5 -2.5,0 -5,-3.5 L 36.2,309.6 Z" fill="#266643" />
<path d="M 335.7,290.3 L 335.7,309.1 L 60.2,309.1 M 47.7,309.1 L 36.7,309.1" fill="none" stroke="#1F5638" stroke-width="1"/>
<path d="M 36.7,309.1 L 36.7,289.8 L 47.7,289.8 l 5,3.5 2.5,0 5,-3.5 L 335.7,289.8" fill="none" stroke="#4E8567" stroke-width="1"/>
<text transform="translate(44.5,303.6) scale(0.94,1)" fill="#fff" font-size="12.35" stroke="#fff" stroke-width="0.3" >set</text>
<rect x="67.3" y="293.3" width="169.5" height="12.5" rx="4" fill="#A8C2B4" />
<text transform="translate(71.8,303.2) scale(0.94,1)" fill="#000" font-size="12.35" stroke="#000" stroke-width="0.22" >HorizontalArrangementRead</text>
<path d="M 225.7,297.95 l 4.6,0 l -2.3,3.4 Z" fill="#266643" fill-opacity="0.85"/>
<rect x="243" y="302.6" width="2" height="1.3" rx="0" fill="#fff" />
<rect x="248.9" y="293.3" width="55.1" height="12.5" rx="4" fill="#A8C2B4" />
<text transform="translate(253.4,303.2) scale(0.94,1)" fill="#000" font-size="12.35" stroke="#000" stroke-width="0.22" >Visible</text>
<path d="M 292.9,297.95 l 4.6,0 l -2.3,3.4 Z" fill="#266643" fill-opacity="0.85"/>
<text transform="translate(311.3,303.6) scale(0.94,1)" fill="#fff" font-size="12.35" stroke="#fff" stroke-width="0.3" >to</text>
<rect x="336.2" y="289.5" width="54.8" height="19.9" rx="0" fill="#77AB41" />
<path d="M 336.8,293.9 c 0,7.2 -6.8,-5.76 -6.8,5.4 s 6.8,-1.8 7.4,5.4 Z" fill="#77AB41" />
<path d="M 390.5,290.5 L 390.5,308.9 L 336.7,308.9" fill="none" stroke="#679539" stroke-width="1"/>
<path d="M 336.7,290 L 390.5,290" fill="none" stroke="#98C26C" stroke-width="0.8"/>
<rect x="340.3" y="293.3" width="46.1" height="12.5" rx="4" fill="#C9DDB3" />
<text transform="translate(344.8,303.2) scale(0.94,1)" fill="#000" font-size="12.35" stroke="#000" stroke-width="0.22" >false</text>
<path d="M 375.3,297.95 l 4.6,0 l -2.3,3.4 Z" fill="#77AB41" fill-opacity="0.85"/>
<rect x="36.2" y="268.9" width="5" height="5" rx="0" fill="#B18E35" />
<path d="M 36.2,273.9 A 5,5 0 0 1 41.2,268.9 L 47.7,268.9 l 5,3.5 2.5,0 5,-3.5 L 362.7,268.9 L 362.7,289.3 L 60.2,289.3 l -5,3.5 -2.5,0 -5,-3.5 L 36.2,289.3 Z" fill="#266643" />
<path d="M 362.2,269.9 L 362.2,288.8 L 60.2,288.8 M 47.7,288.8 L 36.7,288.8" fill="none" stroke="#1F5638" stroke-width="1"/>
<path d="M 47.7,268.6 l 5,3.5 2.5,0 5,-3.5 Z" fill="#B18E35" />
<path d="M 36.7,288.8 L 36.7,273.9 A 4.5,4.5 0 0 1 41.2,269.4 L 47.7,269.4 l 5,3.5 2.5,0 5,-3.5 L 362.2,269.4" fill="none" stroke="#4E8567" stroke-width="1"/>
<text transform="translate(44.5,283.3) scale(0.94,1)" fill="#fff" font-size="12.35" stroke="#fff" stroke-width="0.3" >set</text>
<rect x="67.3" y="272.8" width="195.7" height="12.2" rx="4" fill="#A8C2B4" />
<text transform="translate(71.8,282.7) scale(0.94,1)" fill="#000" font-size="12.35" stroke="#000" stroke-width="0.22" >VerticalArrangementAuthorisation</text>
<path d="M 251.9,277.3 l 4.6,0 l -2.3,3.4 Z" fill="#266643" fill-opacity="0.85"/>
<rect x="268.6" y="282" width="2" height="1.3" rx="0" fill="#fff" />
<rect x="275" y="272.8" width="55" height="12.2" rx="4" fill="#A8C2B4" />
<text transform="translate(279.5,282.7) scale(0.94,1)" fill="#000" font-size="12.35" stroke="#000" stroke-width="0.22" >Visible</text>
<path d="M 318.9,277.3 l 4.6,0 l -2.3,3.4 Z" fill="#266643" fill-opacity="0.85"/>
<text transform="translate(337.2,283.3) scale(0.94,1)" fill="#fff" font-size="12.35" stroke="#fff" stroke-width="0.3" >to</text>
<rect x="362.7" y="268.5" width="54.3" height="20.1" rx="0" fill="#77AB41" />
<path d="M 363.3,272.9 c 0,7.2 -6.8,-5.76 -6.8,5.4 s 6.8,-1.8 7.4,5.4 Z" fill="#77AB41" />
<path d="M 416.5,269.5 L 416.5,288.1 L 363.2,288.1" fill="none" stroke="#679539" stroke-width="1"/>
<path d="M 363.2,269 L 416.5,269" fill="none" stroke="#98C26C" stroke-width="0.8"/>
<rect x="367" y="272.8" width="45.5" height="12.2" rx="4" fill="#C9DDB3" />
<text transform="translate(371.5,282.7) scale(0.94,1)" fill="#000" font-size="12.35" stroke="#000" stroke-width="0.22" >false</text>
<path d="M 401.4,277.3 l 4.6,0 l -2.3,3.4 Z" fill="#77AB41" fill-opacity="0.85"/>
<path d="M 515.4,15.2 A 8,8 0 0 1 523.4,7.2 L 749.4,7.2 A 1.5,1.5 0 0 1 750.9,8.7 L 750.9,48.6 L 546.2,48.6 L 546.2,170 L 751.1,170 L 751.1,178.6 L 523.4,178.6 A 8,8 0 0 1 515.4,170.6 Z" fill="#B18E35" />
<path d="M 515.9,15.2 A 7.5,7.5 0 0 1 523.4,7.7 L 749.4,7.7" fill="none" stroke="#C8AE6E" stroke-width="0.8"/>
<rect x="551.2" y="170" width="199.9" height="0.8" rx="0" fill="#C9B06F" />
<rect x="523.4" y="177.7" width="227.7" height="0.9" rx="0" fill="#9A7B2C" />
<text transform="translate(523.6,20.5) scale(0.94,1)" fill="#fff" font-size="12.35" stroke="#fff" stroke-width="0.3" >when</text>
<rect x="559" y="11.4" width="101.7" height="12.3" rx="4" fill="#E0D2AE" />
<text transform="translate(563.5,21.3) scale(0.94,1)" fill="#000" font-size="12.35" stroke="#000" stroke-width="0.22" >NotifierScreen1</text>
<path d="M 649.6,15.95 l 4.6,0 l -2.3,3.4 Z" fill="#B18E35" fill-opacity="0.85"/>
<text transform="translate(665.8,20.5) scale(0.94,1)" fill="#fff" font-size="12.35" stroke="#fff" stroke-width="0.3" >.AfterChoosing</text>
<rect x="530.6" y="31.8" width="41.6" height="12.1" rx="4" fill="#DE8D6B" stroke="#EBB39B" stroke-width="1.3"/>
<text transform="translate(535.3,42) scale(0.94,1)" fill="#000" font-size="12.35" stroke="#000" stroke-width="0.22" >choice</text>
<text transform="translate(523.6,61.2) scale(0.94,1)" fill="#fff" font-size="12.35" stroke="#fff" stroke-width="0.3" >do</text>
<rect x="545.2" y="162" width="6" height="6" rx="0" fill="#B18E35" />
<path d="M 545.2,107 L 608.8,107 L 608.8,168 L 569.2,168 l -5,3.5 -2.5,0 -5,-3.5 L 551.2,168 A 6,6 0 0 1 545.2,162 Z" fill="#B18E35" />
<path d="M 608.3,108 L 608.3,167.5 L 569.2,167.5 M 556.7,167.5 L 551.7,167.5" fill="none" stroke="#9C7D2E" stroke-width="1"/>
<path d="M 545.7,162 L 545.7,107.5 L 556.7,107.5 l 5,3.5 2.5,0 5,-3.5 L 608.3,107.5" fill="none" stroke="#C8AE6E" stroke-width="1"/>
<path d="M 545.4,163 A 5,5 0 0 0 550.2,168.2 L 553.2,168.2" fill="none" stroke="#EFE6CB" stroke-width="0.9"/>
<rect x="553.8" y="112.3" width="12" height="12" rx="2.8" fill="#4535B5" stroke="#E6D9AE" stroke-width="0.9"/>
<path d="M 563,118.3 L 562.9,119.07 L 564.15,119.8 L 563.27,121.32 L 562.02,120.6 L 561.4,121.07 L 560.68,121.38 L 560.68,122.82 L 558.92,122.82 L 558.92,121.38 L 558.2,121.07 L 557.58,120.6 L 556.33,121.32 L 555.45,119.8 L 556.7,119.07 L 556.6,118.3 L 556.7,117.53 L 555.45,116.8 L 556.33,115.28 L 557.58,116 L 558.2,115.53 L 558.92,115.22 L 558.92,113.78 L 560.68,113.78 L 560.68,115.22 L 561.4,115.53 L 562.02,116 L 563.27,115.28 L 564.15,116.8 L 562.9,117.53 Z M 558.3,118.3 A 1.5,1.5 0 1 0 561.3,118.3 A 1.5,1.5 0 1 0 558.3,118.3 Z" fill="#EFE4C2" fill-rule="evenodd"/>
<text transform="translate(574.8,121.2) scale(0.94,1)" fill="#fff" font-size="12.35" stroke="#fff" stroke-width="0.3" >if</text>
<text transform="translate(553.5,150) scale(0.94,1)" fill="#fff" font-size="12.35" stroke="#fff" stroke-width="0.3" >then</text>
<rect x="545.2" y="47.7" width="8" height="8" rx="0" fill="#B18E35" />
<rect x="545.2" y="101" width="6" height="6" rx="0" fill="#B18E35" />
<path d="M 545.2,55.7 A 8,8 0 0 1 553.2,47.7 L 556.7,47.7 l 5,3.5 2.5,0 5,-3.5 L 608.8,47.7 L 608.8,107 L 569.2,107 l -5,3.5 -2.5,0 -5,-3.5 L 551.2,107 A 6,6 0 0 1 545.2,101 Z" fill="#B18E35" />
<path d="M 608.3,48.7 L 608.3,106.5 L 569.2,106.5 M 556.7,106.5 L 551.7,106.5" fill="none" stroke="#9C7D2E" stroke-width="1"/>
<path d="M 556.7,47.4 l 5,3.5 2.5,0 5,-3.5 Z" fill="#B18E35" />
<path d="M 545.7,101 L 545.7,55.7 A 7.5,7.5 0 0 1 553.2,48.2 L 556.7,48.2 l 5,3.5 2.5,0 5,-3.5 L 608.3,48.2" fill="none" stroke="#C8AE6E" stroke-width="1"/>
<rect x="553.8" y="53.1" width="12" height="12" rx="2.8" fill="#4535B5" stroke="#E6D9AE" stroke-width="0.9"/>
<path d="M 563,59.1 L 562.9,59.87 L 564.15,60.6 L 563.27,62.12 L 562.02,61.4 L 561.4,61.87 L 560.68,62.18 L 560.68,63.62 L 558.92,63.62 L 558.92,62.18 L 558.2,61.87 L 557.58,61.4 L 556.33,62.12 L 555.45,60.6 L 556.7,59.87 L 556.6,59.1 L 556.7,58.33 L 555.45,57.6 L 556.33,56.08 L 557.58,56.8 L 558.2,56.33 L 558.92,56.02 L 558.92,54.58 L 560.68,54.58 L 560.68,56.02 L 561.4,56.33 L 562.02,56.8 L 563.27,56.08 L 564.15,57.6 L 562.9,58.33 Z M 558.3,59.1 A 1.5,1.5 0 1 0 561.3,59.1 A 1.5,1.5 0 1 0 558.3,59.1 Z" fill="#EFE4C2" fill-rule="evenodd"/>
<text transform="translate(574.8,61.8) scale(0.94,1)" fill="#fff" font-size="12.35" stroke="#fff" stroke-width="0.3" >if</text>
<text transform="translate(553.5,90.6) scale(0.94,1)" fill="#fff" font-size="12.35" stroke="#fff" stroke-width="0.3" >then</text>
<rect x="585.5" y="77.7" width="6" height="6" rx="0" fill="#B18E35" />
<rect x="585.5" y="93.3" width="5" height="5" rx="0" fill="#B18E35" />
<path d="M 585.5,83.7 A 6,6 0 0 1 591.5,77.7 L 597,77.7 l 5,3.5 2.5,0 5,-3.5 L 790.1,77.7 L 790.1,98.3 L 590.5,98.3 A 5,5 0 0 1 585.5,93.3 Z" fill="#B18E35" />
<path d="M 789.6,78.7 L 789.6,97.8 L 591,97.8" fill="none" stroke="#9C7D2E" stroke-width="1"/>
<path d="M 597,77.4 l 5,3.5 2.5,0 5,-3.5 Z" fill="#B18E35" />
<path d="M 586,93.3 L 586,83.7 A 5.5,5.5 0 0 1 591.5,78.2 L 597,78.2 l 5,3.5 2.5,0 5,-3.5 L 789.6,78.2" fill="none" stroke="#C8AE6E" stroke-width="1"/>
<path d="M 585.7,93.3 A 5,5 0 0 0 590.5,98.5 L 593.5,98.5" fill="none" stroke="#EFE6CB" stroke-width="0.9"/>
<text transform="translate(593,92.1) scale(0.94,1)" fill="#fff" font-size="12.35" stroke="#fff" stroke-width="0.3" >open another screen</text>
<text transform="translate(708.7,92.1) scale(0.94,1)" fill="#fff" font-size="12.35" stroke="#fff" stroke-width="0.3" >screenName</text>
<rect x="790.1" y="78.5" width="95.7" height="19.6" rx="0" fill="#B32D5E" />
<path d="M 790.7,82.9 c 0,7.2 -6.8,-5.76 -6.8,5.4 s 6.8,-1.8 7.4,5.4 Z" fill="#B32D5E" />
<path d="M 885.3,79.5 L 885.3,97.6 L 790.6,97.6" fill="none" stroke="#9C2752" stroke-width="1"/>
<path d="M 790.6,79 L 885.3,79" fill="none" stroke="#C9627F" stroke-width="0.8"/>
<rect x="806.3" y="82.1" width="63" height="12.4" rx="4" fill="#E1ABBF" />
<text transform="translate(810.9,92.3) scale(0.94,1)" fill="#000" font-size="12.35" stroke="#000" stroke-width="0.22" >My_orders</text>
<text x="797.7" y="91.9" fill="#fff" font-size="12" stroke="#fff" stroke-width="0.35">“</text>
<text x="873.1" y="91.9" fill="#fff" font-size="12" stroke="#fff" stroke-width="0.35">”</text>
<rect x="608.8" y="48.6" width="263" height="29.4" rx="0" fill="#77AB41" />
<path d="M 609.4,53 c 0,7.2 -6.8,-5.76 -6.8,5.4 s 6.8,-1.8 7.4,5.4 Z" fill="#77AB41" />
<path d="M 871.3,49.6 L 871.3,77.5 L 609.3,77.5" fill="none" stroke="#679539" stroke-width="1"/>
<path d="M 609.3,49.1 L 871.3,49.1" fill="none" stroke="#98C26C" stroke-width="0.8"/>
<rect x="622.4" y="52.7" width="88.7" height="20.9" rx="0" fill="#D05F2D" />
<path d="M 623,57.1 c 0,7.2 -6.8,-5.76 -6.8,5.4 s 6.8,-1.8 7.4,5.4 Z" fill="#D05F2D" />
<path d="M 710.6,53.7 L 710.6,73.1 L 622.9,73.1" fill="none" stroke="#B65327" stroke-width="1"/>
<path d="M 622.9,53.2 L 710.6,53.2" fill="none" stroke="#DE8762" stroke-width="0.8"/>
<text transform="translate(630.4,66.6) scale(0.94,1)" fill="#fff" font-size="12.35" stroke="#fff" stroke-width="0.3" >get</text>
<rect x="651.2" y="56.8" width="54.5" height="12.3" rx="4" fill="#ECBFAB" />
<text transform="translate(655.7,66.7) scale(0.94,1)" fill="#000" font-size="12.35" stroke="#000" stroke-width="0.22" >choice</text>
<path d="M 694.6,61.35 l 4.6,0 l -2.3,3.4 Z" fill="#D05F2D" fill-opacity="0.85"/>
<rect x="714.8" y="56.9" width="27.7" height="11.8" rx="4" fill="#C9DDB3" />
<text transform="translate(719.3,66.8) scale(0.94,1)" fill="#000" font-size="12.35" stroke="#000" stroke-width="0.22" >=</text>
<path d="M 731.4,61.2 l 4.6,0 l -2.3,3.4 Z" fill="#77AB41" fill-opacity="0.85"/>
<rect x="752.8" y="52.7" width="110.4" height="20.9" rx="0" fill="#B32D5E" />
<path d="M 753.4,57.1 c 0,7.2 -6.8,-5.76 -6.8,5.4 s 6.8,-1.8 7.4,5.4 Z" fill="#B32D5E" />
<path d="M 862.7,53.7 L 862.7,73.1 L 753.3,73.1" fill="none" stroke="#9C2752" stroke-width="1"/>
<path d="M 753.3,53.2 L 862.7,53.2" fill="none" stroke="#C9627F" stroke-width="0.8"/>
<rect x="768.8" y="56.3" width="77.2" height="13.7" rx="4" fill="#E1ABBF" />
<text transform="translate(773.4,66.5) scale(0.94,1)" fill="#000" font-size="12.35" stroke="#000" stroke-width="0.22" >Cancel Order</text>
<text x="760.2" y="66.1" fill="#fff" font-size="12" stroke="#fff" stroke-width="0.35">“</text>
<text x="849.8" y="66.1" fill="#fff" font-size="12" stroke="#fff" stroke-width="0.35">”</text>
<rect x="585.5" y="137.3" width="6" height="6" rx="0" fill="#B18E35" />
<path d="M 585.5,143.3 A 6,6 0 0 1 591.5,137.3 L 597,137.3 l 5,3.5 2.5,0 5,-3.5 L 911.3,137.3 L 911.3,157.5 L 609.5,157.5 l -5,3.5 -2.5,0 -5,-3.5 L 585.5,157.5 Z" fill="#266643" />
<path d="M 910.8,138.3 L 910.8,157 L 609.5,157 M 597,157 L 586,157" fill="none" stroke="#1F5638" stroke-width="1"/>
<path d="M 597,137 l 5,3.5 2.5,0 5,-3.5 Z" fill="#B18E35" />
<path d="M 586,157 L 586,143.3 A 5.5,5.5 0 0 1 591.5,137.8 L 597,137.8 l 5,3.5 2.5,0 5,-3.5 L 910.8,137.8" fill="none" stroke="#4E8567" stroke-width="1"/>
<path d="M 585.7,152.5 A 5,5 0 0 0 590.5,157.7 L 593.5,157.7" fill="none" stroke="#EFE6CB" stroke-width="0.9"/>
<text transform="translate(593,151) scale(0.94,1)" fill="#fff" font-size="12.35" stroke="#fff" stroke-width="0.3" >set</text>
<rect x="616.4" y="141.5" width="195.1" height="12.1" rx="4" fill="#A8C2B4" />
<text transform="translate(620.9,151.4) scale(0.94,1)" fill="#000" font-size="12.35" stroke="#000" stroke-width="0.22" >VerticalArrangementAuthorisation</text>
<path d="M 800.4,145.95 l 4.6,0 l -2.3,3.4 Z" fill="#266643" fill-opacity="0.85"/>
<rect x="816.8" y="150.5" width="2" height="1.3" rx="0" fill="#fff" />
<rect x="823.4" y="141.5" width="55.5" height="12.1" rx="4" fill="#A8C2B4" />
<text transform="translate(827.9,151.4) scale(0.94,1)" fill="#000" font-size="12.35" stroke="#000" stroke-width="0.22" >Visible</text>
<path d="M 867.8,145.95 l 4.6,0 l -2.3,3.4 Z" fill="#266643" fill-opacity="0.85"/>
<text transform="translate(886,151) scale(0.94,1)" fill="#fff" font-size="12.35" stroke="#fff" stroke-width="0.3" >to</text>
<rect x="911.3" y="137.5" width="50.2" height="20.1" rx="0" fill="#77AB41" />
<path d="M 911.9,141.9 c 0,7.2 -6.8,-5.76 -6.8,5.4 s 6.8,-1.8 7.4,5.4 Z" fill="#77AB41" />
<path d="M 961,138.5 L 961,157.1 L 911.8,157.1" fill="none" stroke="#679539" stroke-width="1"/>
<path d="M 911.8,138 L 961,138" fill="none" stroke="#98C26C" stroke-width="0.8"/>
<rect x="915" y="141.5" width="41.8" height="12.1" rx="4" fill="#C9DDB3" />
<text transform="translate(919.5,151.4) scale(0.94,1)" fill="#000" font-size="12.35" stroke="#000" stroke-width="0.22" >true</text>
<path d="M 945.7,145.95 l 4.6,0 l -2.3,3.4 Z" fill="#77AB41" fill-opacity="0.85"/>
<rect x="608.8" y="107.4" width="267.4" height="29.4" rx="0" fill="#77AB41" />
<path d="M 609.4,111.8 c 0,7.2 -6.8,-5.76 -6.8,5.4 s 6.8,-1.8 7.4,5.4 Z" fill="#77AB41" />
<path d="M 875.7,108.4 L 875.7,136.3 L 609.3,136.3" fill="none" stroke="#679539" stroke-width="1"/>
<path d="M 609.3,107.9 L 875.7,107.9" fill="none" stroke="#98C26C" stroke-width="0.8"/>
<rect x="622.4" y="112.3" width="88.2" height="20.5" rx="0" fill="#D05F2D" />
<path d="M 623,116.7 c 0,7.2 -6.8,-5.76 -6.8,5.4 s 6.8,-1.8 7.4,5.4 Z" fill="#D05F2D" />
<path d="M 710.1,113.3 L 710.1,132.3 L 622.9,132.3" fill="none" stroke="#B65327" stroke-width="1"/>
<path d="M 622.9,112.8 L 710.1,112.8" fill="none" stroke="#DE8762" stroke-width="0.8"/>
<text transform="translate(630.4,126.2) scale(0.94,1)" fill="#fff" font-size="12.35" stroke="#fff" stroke-width="0.3" >get</text>
<rect x="651.2" y="116.2" width="54.5" height="12.3" rx="4" fill="#ECBFAB" />
<text transform="translate(655.7,126.1) scale(0.94,1)" fill="#000" font-size="12.35" stroke="#000" stroke-width="0.22" >choice</text>
<path d="M 694.6,120.75 l 4.6,0 l -2.3,3.4 Z" fill="#D05F2D" fill-opacity="0.85"/>
<rect x="715" y="116.3" width="27.8" height="11.8" rx="4" fill="#C9DDB3" />
<text transform="translate(719.5,126.2) scale(0.94,1)" fill="#000" font-size="12.35" stroke="#000" stroke-width="0.22" >=</text>
<path d="M 731.7,120.6 l 4.6,0 l -2.3,3.4 Z" fill="#77AB41" fill-opacity="0.85"/>
<rect x="752.9" y="111.9" width="114.6" height="21.1" rx="0" fill="#B32D5E" />
<path d="M 753.5,116.3 c 0,7.2 -6.8,-5.76 -6.8,5.4 s 6.8,-1.8 7.4,5.4 Z" fill="#B32D5E" />
<path d="M 867,112.9 L 867,132.5 L 753.4,132.5" fill="none" stroke="#9C2752" stroke-width="1"/>
<path d="M 753.4,112.4 L 867,112.4" fill="none" stroke="#C9627F" stroke-width="0.8"/>
<rect x="768.7" y="115.5" width="82.4" height="13.9" rx="4" fill="#E1ABBF" />
<text transform="translate(773.3,125.7) scale(0.94,1)" fill="#000" font-size="12.35" stroke="#000" stroke-width="0.22" >Confirm Order</text>
<text x="760.1" y="125.3" fill="#fff" font-size="12" stroke="#fff" stroke-width="0.35">“</text>
<text x="854.9" y="125.3" fill="#fff" font-size="12" stroke="#fff" stroke-width="0.35">”</text>
<path d="M 514.3,201.6 A 8,8 0 0 1 522.3,193.6 L 692.7,193.6 A 1.5,1.5 0 0 1 694.2,195.1 L 694.2,215 L 545.2,215 L 545.2,257.3 L 694,257.3 L 694,265.9 L 522.3,265.9 A 8,8 0 0 1 514.3,257.9 Z" fill="#B18E35" />
<path d="M 514.8,201.6 A 7.5,7.5 0 0 1 522.3,194.1 L 692.7,194.1" fill="none" stroke="#C8AE6E" stroke-width="0.8"/>
<rect x="550.2" y="257.3" width="143.8" height="0.8" rx="0" fill="#C9B06F" />
<rect x="522.3" y="265" width="171.7" height="0.9" rx="0" fill="#9A7B2C" />
<text transform="translate(522.7,206.7) scale(0.94,1)" fill="#fff" font-size="12.35" stroke="#fff" stroke-width="0.3" >when</text>
<rect x="557.7" y="197.3" width="95.2" height="12.3" rx="4" fill="#E0D2AE" />
<text transform="translate(562.2,207.2) scale(0.94,1)" fill="#000" font-size="12.35" stroke="#000" stroke-width="0.22" >ButtonRescan</text>
<path d="M 641.8,201.85 l 4.6,0 l -2.3,3.4 Z" fill="#B18E35" fill-opacity="0.85"/>
<text transform="translate(657.6,206.7) scale(0.94,1)" fill="#fff" font-size="12.35" stroke="#fff" stroke-width="0.3" >.Click</text>
<text transform="translate(522.7,227.3) scale(0.94,1)" fill="#fff" font-size="12.35" stroke="#fff" stroke-width="0.3" >do</text>
<rect x="544.2" y="250.7" width="5" height="5" rx="0" fill="#B18E35" />
<path d="M 544.2,235.3 L 844.3,235.3 L 844.3,255.7 L 568.2,255.7 l -5,3.5 -2.5,0 -5,-3.5 L 549.2,255.7 A 5,5 0 0 1 544.2,250.7 Z" fill="#266643" />
<path d="M 843.8,236.3 L 843.8,255.2 L 568.2,255.2 M 555.7,255.2 L 549.7,255.2" fill="none" stroke="#1F5638" stroke-width="1"/>
<path d="M 544.7,250.7 L 544.7,235.8 L 555.7,235.8 l 5,3.5 2.5,0 5,-3.5 L 843.8,235.8" fill="none" stroke="#4E8567" stroke-width="1"/>
<path d="M 544.4,250.7 A 5,5 0 0 0 549.2,255.9 L 552.2,255.9" fill="none" stroke="#EFE6CB" stroke-width="0.9"/>
<text transform="translate(552.5,249.2) scale(0.94,1)" fill="#fff" font-size="12.35" stroke="#fff" stroke-width="0.3" >set</text>
<rect x="575.6" y="239.3" width="169.3" height="12.5" rx="4" fill="#A8C2B4" />
<text transform="translate(580.1,249.2) scale(0.94,1)" fill="#000" font-size="12.35" stroke="#000" stroke-width="0.22" >HorizontalArrangementRead</text>
<path d="M 733.8,243.95 l 4.6,0 l -2.3,3.4 Z" fill="#266643" fill-opacity="0.85"/>
<rect x="750" y="248.7" width="2" height="1.3" rx="0" fill="#fff" />
<rect x="756.9" y="239.3" width="55.1" height="12.5" rx="4" fill="#A8C2B4" />
<text transform="translate(761.4,249.2) scale(0.94,1)" fill="#000" font-size="12.35" stroke="#000" stroke-width="0.22" >Visible</text>
<path d="M 800.9,243.95 l 4.6,0 l -2.3,3.4 Z" fill="#266643" fill-opacity="0.85"/>
<text transform="translate(819.6,249.2) scale(0.94,1)" fill="#fff" font-size="12.35" stroke="#fff" stroke-width="0.3" >to</text>
<rect x="844.3" y="235.3" width="50.6" height="20.6" rx="0" fill="#77AB41" />
<path d="M 844.9,239.7 c 0,7.2 -6.8,-5.76 -6.8,5.4 s 6.8,-1.8 7.4,5.4 Z" fill="#77AB41" />
<path d="M 894.4,236.3 L 894.4,255.4 L 844.8,255.4" fill="none" stroke="#679539" stroke-width="1"/>
<path d="M 844.8,235.8 L 894.4,235.8" fill="none" stroke="#98C26C" stroke-width="0.8"/>
<rect x="848.6" y="239.3" width="40.9" height="12.5" rx="4" fill="#C9DDB3" />
<text transform="translate(853.1,249.2) scale(0.94,1)" fill="#000" font-size="12.35" stroke="#000" stroke-width="0.22" >true</text>
<path d="M 878.4,243.95 l 4.6,0 l -2.3,3.4 Z" fill="#77AB41" fill-opacity="0.85"/>
<rect x="544.2" y="214.2" width="5" height="5" rx="0" fill="#B18E35" />
<path d="M 544.2,219.2 A 5,5 0 0 1 549.2,214.2 L 555.7,214.2 l 5,3.5 2.5,0 5,-3.5 L 848.3,214.2 L 848.3,235.3 L 568.2,235.3 l -5,3.5 -2.5,0 -5,-3.5 L 544.2,235.3 Z" fill="#266643" />
<path d="M 847.8,215.2 L 847.8,234.8 L 568.2,234.8 M 555.7,234.8 L 544.7,234.8" fill="none" stroke="#1F5638" stroke-width="1"/>
<path d="M 555.7,213.9 l 5,3.5 2.5,0 5,-3.5 Z" fill="#B18E35" />
<path d="M 544.7,234.8 L 544.7,219.2 A 4.5,4.5 0 0 1 549.2,214.7 L 555.7,214.7 l 5,3.5 2.5,0 5,-3.5 L 847.8,214.7" fill="none" stroke="#4E8567" stroke-width="1"/>
<text transform="translate(552.5,227.9) scale(0.94,1)" fill="#fff" font-size="12.35" stroke="#fff" stroke-width="0.3" >set</text>
<rect x="575.6" y="218.1" width="173.4" height="12.4" rx="4" fill="#A8C2B4" />
<text transform="translate(580.1,228) scale(0.94,1)" fill="#000" font-size="12.35" stroke="#000" stroke-width="0.22" >VerticalArrangementScanned</text>
<path d="M 737.9,222.7 l 4.6,0 l -2.3,3.4 Z" fill="#266643" fill-opacity="0.85"/>
<rect x="754.2" y="227.6" width="2" height="1.3" rx="0" fill="#fff" />
<rect x="760.8" y="218.1" width="54.9" height="12.4" rx="4" fill="#A8C2B4" />
<text transform="translate(765.3,228) scale(0.94,1)" fill="#000" font-size="12.35" stroke="#000" stroke-width="0.22" >Visible</text>
<path d="M 804.6,222.7 l 4.6,0 l -2.3,3.4 Z" fill="#266643" fill-opacity="0.85"/>
<text transform="translate(823.2,227.9) scale(0.94,1)" fill="#fff" font-size="12.35" stroke="#fff" stroke-width="0.3" >to</text>
<rect x="848.3" y="214" width="55.2" height="20.4" rx="0" fill="#77AB41" />
<path d="M 848.9,218.4 c 0,7.2 -6.8,-5.76 -6.8,5.4 s 6.8,-1.8 7.4,5.4 Z" fill="#77AB41" />
<path d="M 903,215 L 903,233.9 L 848.8,233.9" fill="none" stroke="#679539" stroke-width="1"/>
<path d="M 848.8,214.5 L 903,214.5" fill="none" stroke="#98C26C" stroke-width="0.8"/>
<rect x="852.8" y="218.1" width="45.7" height="12.4" rx="4" fill="#C9DDB3" />
<text transform="translate(857.3,228) scale(0.94,1)" fill="#000" font-size="12.35" stroke="#000" stroke-width="0.22" >false</text>
<path d="M 887.4,222.7 l 4.6,0 l -2.3,3.4 Z" fill="#77AB41" fill-opacity="0.85"/>
<path d="M 515.5,290.2 A 8,8 0 0 1 523.5,282.2 L 720.3,282.2 A 1.5,1.5 0 0 1 721.8,283.7 L 721.8,303.9 L 546.4,303.9 L 546.4,324.5 L 721.8,324.5 L 721.8,332.6 L 523.5,332.6 A 8,8 0 0 1 515.5,324.6 Z" fill="#B18E35" />
<path d="M 516,290.2 A 7.5,7.5 0 0 1 523.5,282.7 L 720.3,282.7" fill="none" stroke="#C8AE6E" stroke-width="0.8"/>
<rect x="551.4" y="324.5" width="170.4" height="0.8" rx="0" fill="#C9B06F" />
<rect x="523.5" y="331.7" width="198.3" height="0.9" rx="0" fill="#9A7B2C" />
<text transform="translate(523.7,296) scale(0.94,1)" fill="#fff" font-size="12.35" stroke="#fff" stroke-width="0.3" >when</text>
<rect x="559" y="286.1" width="120.9" height="12.3" rx="4" fill="#E0D2AE" />
<text transform="translate(563.5,296) scale(0.94,1)" fill="#000" font-size="12.35" stroke="#000" stroke-width="0.22" >ButtonCancelOrder</text>
<path d="M 668.8,290.65 l 4.6,0 l -2.3,3.4 Z" fill="#B18E35" fill-opacity="0.85"/>
<text transform="translate(684.3,296) scale(0.94,1)" fill="#fff" font-size="12.35" stroke="#fff" stroke-width="0.3" >.Click</text>
<text transform="translate(523.7,316) scale(0.94,1)" fill="#fff" font-size="12.35" stroke="#fff" stroke-width="0.3" >do</text>
<rect x="545.4" y="303.1" width="6" height="6" rx="0" fill="#B18E35" />
<rect x="545.4" y="318.8" width="5" height="5" rx="0" fill="#B18E35" />
<path d="M 545.4,309.1 A 6,6 0 0 1 551.4,303.1 L 556.9,303.1 l 5,3.5 2.5,0 5,-3.5 L 750.2,303.1 L 750.2,323.8 L 550.4,323.8 A 5,5 0 0 1 545.4,318.8 Z" fill="#B18E35" />
<path d="M 749.7,304.1 L 749.7,323.3 L 550.9,323.3" fill="none" stroke="#9C7D2E" stroke-width="1"/>
<path d="M 556.9,302.8 l 5,3.5 2.5,0 5,-3.5 Z" fill="#B18E35" />
<path d="M 545.9,318.8 L 545.9,309.1 A 5.5,5.5 0 0 1 551.4,303.6 L 556.9,303.6 l 5,3.5 2.5,0 5,-3.5 L 749.7,303.6" fill="none" stroke="#C8AE6E" stroke-width="1"/>
<path d="M 545.6,318.8 A 5,5 0 0 0 550.4,324 L 553.4,324" fill="none" stroke="#EFE6CB" stroke-width="0.9"/>
<text transform="translate(553.9,317.2) scale(0.94,1)" fill="#fff" font-size="12.35" stroke="#fff" stroke-width="0.3" >open another screen</text>
<text transform="translate(669,317.2) scale(0.94,1)" fill="#fff" font-size="12.35" stroke="#fff" stroke-width="0.3" >screenName</text>
<rect x="750.2" y="303.6" width="96.2" height="19.8" rx="0" fill="#B32D5E" />
<path d="M 750.8,308 c 0,7.2 -6.8,-5.76 -6.8,5.4 s 6.8,-1.8 7.4,5.4 Z" fill="#B32D5E" />
<path d="M 845.9,304.6 L 845.9,322.9 L 750.7,322.9" fill="none" stroke="#9C2752" stroke-width="1"/>
<path d="M 750.7,304.1 L 845.9,304.1" fill="none" stroke="#C9627F" stroke-width="0.8"/>
<rect x="766.5" y="307.2" width="62.9" height="12.6" rx="4" fill="#E1ABBF" />
<text transform="translate(771.1,317.4) scale(0.94,1)" fill="#000" font-size="12.35" stroke="#000" stroke-width="0.22" >My_orders</text>
<text x="757.9" y="317" fill="#fff" font-size="12" stroke="#fff" stroke-width="0.35">“</text>
<text x="833.2" y="317" fill="#fff" font-size="12" stroke="#fff" stroke-width="0.35">”</text>
<path d="M 514.5,395.2 A 8,8 0 0 1 522.5,387.2 L 700.5,387.2 A 1.5,1.5 0 0 1 702,388.7 L 702,408.3 L 545.4,408.3 L 545.4,540 L 514.5,540 Z" fill="#B18E35" />
<path d="M 515,395.2 A 7.5,7.5 0 0 1 522.5,387.7 L 700.5,387.7" fill="none" stroke="#C8AE6E" stroke-width="0.8"/>
<text transform="translate(522.4,401) scale(0.94,1)" fill="#fff" font-size="12.35" stroke="#fff" stroke-width="0.3" >when</text>
<rect x="558.4" y="391.4" width="101.5" height="12.4" rx="4" fill="#E0D2AE" />
<text transform="translate(562.9,401.3) scale(0.94,1)" fill="#000" font-size="12.35" stroke="#000" stroke-width="0.22" >ButtonResend2</text>
<path d="M 648.8,396 l 4.6,0 l -2.3,3.4 Z" fill="#B18E35" fill-opacity="0.85"/>
<text transform="translate(664.5,401) scale(0.94,1)" fill="#fff" font-size="12.35" stroke="#fff" stroke-width="0.3" >.Click</text>
<text transform="translate(522.4,421) scale(0.94,1)" fill="#fff" font-size="12.35" stroke="#fff" stroke-width="0.3" >do</text>
<rect x="544.4" y="407.5" width="8" height="8" rx="0" fill="#B18E35" />
<path d="M 544.4,415.5 A 8,8 0 0 1 552.4,407.5 L 555.9,407.5 l 5,3.5 2.5,0 5,-3.5 L 608.2,407.5 L 608.2,540 L 544.4,540 Z" fill="#B18E35" />
<path d="M 607.7,408.5 L 607.7,539.5 L 544.9,539.5" fill="none" stroke="#9C7D2E" stroke-width="1"/>
<path d="M 555.9,407.2 l 5,3.5 2.5,0 5,-3.5 Z" fill="#B18E35" />
<path d="M 544.9,539.5 L 544.9,415.5 A 7.5,7.5 0 0 1 552.4,408 L 555.9,408 l 5,3.5 2.5,0 5,-3.5 L 607.7,408" fill="none" stroke="#C8AE6E" stroke-width="1"/>
<rect x="552.8" y="412.7" width="12" height="12" rx="2.8" fill="#4535B5" stroke="#E6D9AE" stroke-width="0.9"/>
<path d="M 562,418.7 L 561.9,419.47 L 563.15,420.2 L 562.27,421.72 L 561.02,421 L 560.4,421.47 L 559.68,421.78 L 559.68,423.22 L 557.92,423.22 L 557.92,421.78 L 557.2,421.47 L 556.58,421 L 555.33,421.72 L 554.45,420.2 L 555.7,419.47 L 555.6,418.7 L 555.7,417.93 L 554.45,417.2 L 555.33,415.68 L 556.58,416.4 L 557.2,415.93 L 557.92,415.62 L 557.92,414.18 L 559.68,414.18 L 559.68,415.62 L 560.4,415.93 L 561.02,416.4 L 562.27,415.68 L 563.15,417.2 L 561.9,417.93 Z M 557.3,418.7 A 1.5,1.5 0 1 0 560.3,418.7 A 1.5,1.5 0 1 0 557.3,418.7 Z" fill="#EFE4C2" fill-rule="evenodd"/>
<text transform="translate(574.1,421.4) scale(0.94,1)" fill="#fff" font-size="12.35" stroke="#fff" stroke-width="0.3" >if</text>
<text transform="translate(552.3,451.2) scale(0.94,1)" fill="#fff" font-size="12.35" stroke="#fff" stroke-width="0.3" >then</text>
<path d="M 584.5,488 L 857.6,488 L 857.6,540 L 584.5,540 Z" fill="#266643" />
<path d="M 857.1,489 L 857.1,539.5 L 585,539.5" fill="none" stroke="#1F5638" stroke-width="1"/>
<path d="M 585,539.5 L 585,488.5 L 596,488.5 l 5,3.5 2.5,0 5,-3.5 L 857.1,488.5" fill="none" stroke="#4E8567" stroke-width="1"/>
<text transform="translate(592.1,501.6) scale(0.94,1)" fill="#fff" font-size="12.35" stroke="#fff" stroke-width="0.3" >set</text>
<rect x="615.4" y="492.2" width="101.3" height="12.3" rx="4" fill="#A8C2B4" />
<text transform="translate(619.9,502.1) scale(0.94,1)" fill="#000" font-size="12.35" stroke="#000" stroke-width="0.22" >TextingScreen1</text>
<path d="M 705.6,496.75 l 4.6,0 l -2.3,3.4 Z" fill="#266643" fill-opacity="0.85"/>
<rect x="722" y="500.6" width="2" height="1.3" rx="0" fill="#fff" />
<rect x="729" y="492.2" width="96.6" height="12.3" rx="4" fill="#A8C2B4" />
<text transform="translate(733.5,502.1) scale(0.94,1)" fill="#000" font-size="12.35" stroke="#000" stroke-width="0.22" >PhoneNumber</text>
<path d="M 814.5,496.75 l 4.6,0 l -2.3,3.4 Z" fill="#266643" fill-opacity="0.85"/>
<text transform="translate(832.5,501.6) scale(0.94,1)" fill="#fff" font-size="12.35" stroke="#fff" stroke-width="0.3" >to</text>
<rect x="857.6" y="488" width="195.1" height="52" rx="0" fill="#7C5385" />
<path d="M 858.2,492.4 c 0,7.2 -6.8,-5.76 -6.8,5.4 s 6.8,-1.8 7.4,5.4 Z" fill="#7C5385" />
<path d="M 1052.2,489 L 1052.2,539.5 L 858.1,539.5" fill="none" stroke="#6C4974" stroke-width="1"/>
<path d="M 858.1,488.5 L 1052.2,488.5" fill="none" stroke="#9A7BA2" stroke-width="0.8"/>
<text transform="translate(866.4,502) scale(0.94,1)" fill="#fff" font-size="12.35" stroke="#fff" stroke-width="0.3" >call</text>
<rect x="891" y="492.4" width="101.8" height="12.6" rx="4" fill="#CBBACE" />
<text transform="translate(895.5,502.3) scale(0.94,1)" fill="#000" font-size="12.35" stroke="#000" stroke-width="0.22" >TinyDBScreen1</text>
<path d="M 981.7,497.1 l 4.6,0 l -2.3,3.4 Z" fill="#7C5385" fill-opacity="0.85"/>
<text transform="translate(998,502) scale(0.94,1)" fill="#fff" font-size="12.35" stroke="#fff" stroke-width="0.3" >.GetValue</text>
<text transform="translate(1049,522) scale(0.94,1)" fill="#fff" font-size="12.35" stroke="#fff" stroke-width="0.3" text-anchor="end">tag</text>
<path d="M 584.5,457.6 L 763.8,457.6 L 763.8,488 L 608.5,488 l -5,3.5 -2.5,0 -5,-3.5 L 584.5,488 Z" fill="#D05F2D" />
<path d="M 763.3,458.6 L 763.3,487.5 L 608.5,487.5 M 596,487.5 L 585,487.5" fill="none" stroke="#B65327" stroke-width="1"/>
<path d="M 585,487.5 L 585,458.1 L 596,458.1 l 5,3.5 2.5,0 5,-3.5 L 763.3,458.1" fill="none" stroke="#DE8762" stroke-width="1"/>
<text transform="translate(592.1,471.9) scale(0.94,1)" fill="#fff" font-size="12.35" stroke="#fff" stroke-width="0.3" >set</text>
<rect x="612.2" y="462.3" width="122.1" height="12.3" rx="4" fill="#ECBFAB" />
<text transform="translate(616.7,472.2) scale(0.94,1)" fill="#000" font-size="12.35" stroke="#000" stroke-width="0.22" >global authorisation</text>
<path d="M 723.2,466.85 l 4.6,0 l -2.3,3.4 Z" fill="#D05F2D" fill-opacity="0.85"/>
<text transform="translate(738.7,471.9) scale(0.94,1)" fill="#fff" font-size="12.35" stroke="#fff" stroke-width="0.3" >to</text>
<rect x="1016.7" y="459" width="6.8" height="4.2" rx="0" fill="#DDDDDD" />
<rect x="1016.7" y="463" width="2.3" height="24.4" rx="0" fill="#E4E4E4" />
<rect x="763.3" y="458.8" width="253.4" height="28.6" rx="0" fill="#3F71B5" />
<path d="M 763.9,463.2 c 0,7.2 -6.8,-5.76 -6.8,5.4 s 6.8,-1.8 7.4,5.4 Z" fill="#3F71B5" />
<path d="M 1016.2,459.8 L 1016.2,486.9 L 763.8,486.9" fill="none" stroke="#37639F" stroke-width="1"/>
<path d="M 763.8,459.3 L 1016.2,459.3" fill="none" stroke="#6A93CA" stroke-width="0.8"/>
<text transform="translate(772,475.8) scale(0.94,1)" fill="#fff" font-size="12.35" stroke="#fff" stroke-width="0.3" >random integer from</text>
<rect x="891" y="463.2" width="43.8" height="21.3" rx="0" fill="#3F71B5" />
<path d="M 891.6,467.6 c 0,7.2 -6.8,-5.76 -6.8,5.4 s 6.8,-1.8 7.4,5.4 Z" fill="#3F71B5" />
<path d="M 891.5,467.6 L 891.5,463.7 L 934.3,463.7 L 934.3,484 L 891.5,484 L 891.5,478.4 " fill="none" stroke="#7196CB" stroke-width="1" fill="none"/>
<path d="M 891.5,467.6 c 0,7.2 -6.8,-5.76 -6.8,5.4 s 6.8,-1.8 6.8,5.4" fill="none" stroke="#7196CB" stroke-width="1" fill="none"/>
<rect x="895.4" y="467.5" width="33.6" height="12.4" rx="4" fill="#B2C6E1" />
<text transform="translate(900.2,477.5) scale(0.94,1)" fill="#000" font-size="12.35" stroke="#000" stroke-width="0.22" >1000</text>
<text transform="translate(941.6,475.8) scale(0.94,1)" fill="#fff" font-size="12.35" stroke="#fff" stroke-width="0.3" >to</text>
<rect x="965" y="463.2" width="43.8" height="21.3" rx="0" fill="#3F71B5" />
<path d="M 965.6,467.6 c 0,7.2 -6.8,-5.76 -6.8,5.4 s 6.8,-1.8 7.4,5.4 Z" fill="#3F71B5" />
<path d="M 965.5,467.6 L 965.5,463.7 L 1008.3,463.7 L 1008.3,484 L 965.5,484 L 965.5,478.4 " fill="none" stroke="#7196CB" stroke-width="1" fill="none"/>
<path d="M 965.5,467.6 c 0,7.2 -6.8,-5.76 -6.8,5.4 s 6.8,-1.8 6.8,5.4" fill="none" stroke="#7196CB" stroke-width="1" fill="none"/>
<rect x="968.8" y="467.5" width="34.2" height="12.4" rx="4" fill="#B2C6E1" />
<text transform="translate(973.6,477.5) scale(0.94,1)" fill="#000" font-size="12.35" stroke="#000" stroke-width="0.22" >9999</text>
<rect x="584.5" y="437.5" width="6" height="6" rx="0" fill="#B18E35" />
<path d="M 584.5,443.5 A 6,6 0 0 1 590.5,437.5 L 596,437.5 l 5,3.5 2.5,0 5,-3.5 L 814.3,437.5 L 814.3,457.6 L 608.5,457.6 l -5,3.5 -2.5,0 -5,-3.5 L 584.5,457.6 Z" fill="#266643" />
<path d="M 813.8,438.5 L 813.8,457.1 L 608.5,457.1 M 596,457.1 L 585,457.1" fill="none" stroke="#1F5638" stroke-width="1"/>
<path d="M 596,437.2 l 5,3.5 2.5,0 5,-3.5 Z" fill="#B18E35" />
<path d="M 585,457.1 L 585,443.5 A 5.5,5.5 0 0 1 590.5,438 L 596,438 l 5,3.5 2.5,0 5,-3.5 L 813.8,438" fill="none" stroke="#4E8567" stroke-width="1"/>
<text transform="translate(592.1,451.6) scale(0.94,1)" fill="#fff" font-size="12.35" stroke="#fff" stroke-width="0.3" >set</text>
<rect x="614.8" y="441.6" width="113.3" height="11.6" rx="4" fill="#A8C2B4" />
<text transform="translate(619.3,451.5) scale(0.94,1)" fill="#000" font-size="12.35" stroke="#000" stroke-width="0.22" >LabelNotifiedWith</text>
<path d="M 717,445.8 l 4.6,0 l -2.3,3.4 Z" fill="#266643" fill-opacity="0.85"/>
<rect x="732.8" y="450.5" width="2" height="1.3" rx="0" fill="#fff" />
<rect x="739.4" y="441.6" width="42.9" height="11.6" rx="4" fill="#A8C2B4" />
<text transform="translate(743.9,451.5) scale(0.94,1)" fill="#000" font-size="12.35" stroke="#000" stroke-width="0.22" >Text</text>
<path d="M 771.2,445.8 l 4.6,0 l -2.3,3.4 Z" fill="#266643" fill-opacity="0.85"/>
<text transform="translate(789.8,451.6) scale(0.94,1)" fill="#fff" font-size="12.35" stroke="#fff" stroke-width="0.3" >to</text>
<rect x="814.3" y="437.4" width="238.4" height="19.9" rx="0" fill="#B32D5E" />
<path d="M 814.9,441.8 c 0,7.2 -6.8,-5.76 -6.8,5.4 s 6.8,-1.8 7.4,5.4 Z" fill="#B32D5E" />
<path d="M 1052.2,438.4 L 1052.2,456.8 L 814.8,456.8" fill="none" stroke="#9C2752" stroke-width="1"/>
<path d="M 814.8,437.9 L 1052.2,437.9" fill="none" stroke="#C9627F" stroke-width="0.8"/>
<rect x="831" y="441" width="205.8" height="12.7" rx="4" fill="#E1ABBF" />
<text transform="translate(835.6,451.2) scale(0.94,1)" fill="#000" font-size="12.35" stroke="#000" stroke-width="0.22" >SMS was sent to your mobile number.</text>
<text x="822.4" y="450.8" fill="#fff" font-size="12" stroke="#fff" stroke-width="0.35">“</text>
<text x="1040.6" y="450.8" fill="#fff" font-size="12" stroke="#fff" stroke-width="0.35">”</text>
<rect x="608.2" y="407.8" width="365.8" height="29.1" rx="0" fill="#77AB41" />
<path d="M 608.8,412.2 c 0,7.2 -6.8,-5.76 -6.8,5.4 s 6.8,-1.8 7.4,5.4 Z" fill="#77AB41" />
<path d="M 973.5,408.8 L 973.5,436.4 L 608.7,436.4" fill="none" stroke="#679539" stroke-width="1"/>
<path d="M 608.7,408.3 L 973.5,408.3" fill="none" stroke="#98C26C" stroke-width="0.8"/>
<rect x="622" y="412.9" width="116.9" height="20.2" rx="0" fill="#D05F2D" />
<path d="M 622.6,417.3 c 0,7.2 -6.8,-5.76 -6.8,5.4 s 6.8,-1.8 7.4,5.4 Z" fill="#D05F2D" />
<path d="M 738.4,413.9 L 738.4,432.6 L 622.5,432.6" fill="none" stroke="#B65327" stroke-width="1"/>
<path d="M 622.5,413.4 L 738.4,413.4" fill="none" stroke="#DE8762" stroke-width="0.8"/>
<text transform="translate(630,426.6) scale(0.94,1)" fill="#fff" font-size="12.35" stroke="#fff" stroke-width="0.3" >get</text>
<rect x="650.5" y="416.8" width="83.3" height="12.2" rx="4" fill="#ECBFAB" />
<text transform="translate(655,426.7) scale(0.94,1)" fill="#000" font-size="12.35" stroke="#000" stroke-width="0.22" >global notify</text>
<path d="M 722.7,421.3 l 4.6,0 l -2.3,3.4 Z" fill="#D05F2D" fill-opacity="0.85"/>
<rect x="743.2" y="416.1" width="27.4" height="12.5" rx="4" fill="#C9DDB3" />
<text transform="translate(747.7,426) scale(0.94,1)" fill="#000" font-size="12.35" stroke="#000" stroke-width="0.22" >=</text>
<path d="M 759.5,420.75 l 4.6,0 l -2.3,3.4 Z" fill="#77AB41" fill-opacity="0.85"/>
<rect x="781" y="412.9" width="184" height="20.2" rx="0" fill="#B32D5E" />
<path d="M 781.6,417.3 c 0,7.2 -6.8,-5.76 -6.8,5.4 s 6.8,-1.8 7.4,5.4 Z" fill="#B32D5E" />
<path d="M 964.5,413.9 L 964.5,432.6 L 781.5,432.6" fill="none" stroke="#9C2752" stroke-width="1"/>
<path d="M 781.5,413.4 L 964.5,413.4" fill="none" stroke="#C9627F" stroke-width="0.8"/>
<rect x="797" y="416.5" width="150.1" height="13" rx="4" fill="#E1ABBF" />
<text transform="translate(801.6,426.7) scale(0.94,1)" fill="#000" font-size="12.35" stroke="#000" stroke-width="0.22" >You will be notified via SMS</text>
<text x="788.4" y="426.3" fill="#fff" font-size="12" stroke="#fff" stroke-width="0.35">“</text>
<text x="950.9" y="426.3" fill="#fff" font-size="12" stroke="#fff" stroke-width="0.35">”</text>
<rect x="1042.5" y="150" width="8" height="59.5" rx="4" fill="#CCCCCC" />
<rect x="108.7" y="517" width="467.3" height="8" rx="4" fill="#CCCCCC" />
<text x="0.8" y="478.8" fill="#333" font-size="11" >0</text>
<rect x="-2" y="483.8" width="26.6" height="16" rx="0" fill="#EDEDED" stroke="#555555" stroke-width="1.1"/>
<text x="14.2" y="495" fill="#222" font-size="10.8" text-anchor="end">ngs</text>
</svg>
</body></html>
